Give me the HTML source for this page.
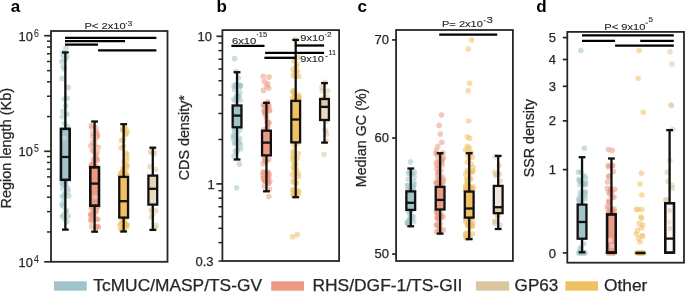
<!DOCTYPE html>
<html><head><meta charset="utf-8"><style>
html,body{margin:0;padding:0;background:#fff;}
svg{display:block;font-family:"Liberation Sans", sans-serif;will-change:transform;}
</style></head><body>
<svg width="685" height="293" viewBox="0 0 685 293">
<rect width="685" height="293" fill="#fff"/>
<circle cx="65.90" cy="48.20" r="2.8" fill="#a0c4c8" fill-opacity="0.55"/>
<circle cx="63.20" cy="52.30" r="2.8" fill="#a0c4c8" fill-opacity="0.55"/>
<circle cx="61.80" cy="61.50" r="2.8" fill="#a0c4c8" fill-opacity="0.55"/>
<circle cx="64.70" cy="59.40" r="2.8" fill="#a0c4c8" fill-opacity="0.55"/>
<circle cx="63.20" cy="66.60" r="2.8" fill="#a0c4c8" fill-opacity="0.55"/>
<circle cx="62.20" cy="78.40" r="2.8" fill="#a0c4c8" fill-opacity="0.55"/>
<circle cx="68.40" cy="87.40" r="2.8" fill="#a0c4c8" fill-opacity="0.55"/>
<circle cx="67.30" cy="98.30" r="2.8" fill="#a0c4c8" fill-opacity="0.55"/>
<circle cx="62.90" cy="55.50" r="2.8" fill="#a0c4c8" fill-opacity="0.55"/>
<circle cx="67.00" cy="56.80" r="2.8" fill="#a0c4c8" fill-opacity="0.55"/>
<circle cx="64.30" cy="69.10" r="2.8" fill="#a0c4c8" fill-opacity="0.55"/>
<circle cx="64.30" cy="99.10" r="2.8" fill="#a0c4c8" fill-opacity="0.55"/>
<circle cx="65.60" cy="105.90" r="2.8" fill="#a0c4c8" fill-opacity="0.55"/>
<circle cx="62.90" cy="111.40" r="2.8" fill="#a0c4c8" fill-opacity="0.55"/>
<circle cx="67.00" cy="114.10" r="2.8" fill="#a0c4c8" fill-opacity="0.55"/>
<circle cx="62.40" cy="116.80" r="2.8" fill="#a0c4c8" fill-opacity="0.55"/>
<circle cx="64.30" cy="123.60" r="2.8" fill="#a0c4c8" fill-opacity="0.55"/>
<circle cx="67.00" cy="126.40" r="2.8" fill="#a0c4c8" fill-opacity="0.55"/>
<circle cx="62.75" cy="188.77" r="2.8" fill="#a0c4c8" fill-opacity="0.55"/>
<circle cx="62.15" cy="196.62" r="2.8" fill="#a0c4c8" fill-opacity="0.55"/>
<circle cx="64.38" cy="193.86" r="2.8" fill="#a0c4c8" fill-opacity="0.55"/>
<circle cx="65.46" cy="182.39" r="2.8" fill="#a0c4c8" fill-opacity="0.55"/>
<circle cx="64.90" cy="181.90" r="2.8" fill="#a0c4c8" fill-opacity="0.55"/>
<circle cx="62.29" cy="182.68" r="2.8" fill="#a0c4c8" fill-opacity="0.55"/>
<circle cx="67.88" cy="191.19" r="2.8" fill="#a0c4c8" fill-opacity="0.55"/>
<circle cx="63.30" cy="183.97" r="2.8" fill="#a0c4c8" fill-opacity="0.55"/>
<circle cx="68.80" cy="196.06" r="2.8" fill="#a0c4c8" fill-opacity="0.55"/>
<circle cx="64.61" cy="194.85" r="2.8" fill="#a0c4c8" fill-opacity="0.55"/>
<circle cx="61.95" cy="204.43" r="2.8" fill="#a0c4c8" fill-opacity="0.55"/>
<circle cx="63.80" cy="201.60" r="2.8" fill="#a0c4c8" fill-opacity="0.55"/>
<circle cx="62.50" cy="184.46" r="2.8" fill="#a0c4c8" fill-opacity="0.55"/>
<circle cx="67.80" cy="188.40" r="2.8" fill="#a0c4c8" fill-opacity="0.55"/>
<circle cx="66.02" cy="185.34" r="2.8" fill="#a0c4c8" fill-opacity="0.55"/>
<circle cx="64.43" cy="196.33" r="2.8" fill="#a0c4c8" fill-opacity="0.55"/>
<circle cx="62.08" cy="216.50" r="2.8" fill="#a0c4c8" fill-opacity="0.55"/>
<circle cx="63.17" cy="206.25" r="2.8" fill="#a0c4c8" fill-opacity="0.55"/>
<circle cx="64.85" cy="219.29" r="2.8" fill="#a0c4c8" fill-opacity="0.55"/>
<circle cx="66.05" cy="211.60" r="2.8" fill="#a0c4c8" fill-opacity="0.55"/>
<circle cx="63.88" cy="214.52" r="2.8" fill="#a0c4c8" fill-opacity="0.55"/>
<circle cx="66.91" cy="221.68" r="2.8" fill="#a0c4c8" fill-opacity="0.55"/>
<circle cx="65.97" cy="210.13" r="2.8" fill="#a0c4c8" fill-opacity="0.55"/>
<circle cx="68.25" cy="216.03" r="2.8" fill="#a0c4c8" fill-opacity="0.55"/>
<circle cx="92.69" cy="142.63" r="2.8" fill="#eb9a84" fill-opacity="0.55"/>
<circle cx="91.40" cy="125.52" r="2.8" fill="#eb9a84" fill-opacity="0.55"/>
<circle cx="96.25" cy="158.05" r="2.8" fill="#eb9a84" fill-opacity="0.55"/>
<circle cx="94.22" cy="165.55" r="2.8" fill="#eb9a84" fill-opacity="0.55"/>
<circle cx="95.58" cy="166.87" r="2.8" fill="#eb9a84" fill-opacity="0.55"/>
<circle cx="94.85" cy="140.48" r="2.8" fill="#eb9a84" fill-opacity="0.55"/>
<circle cx="92.88" cy="133.15" r="2.8" fill="#eb9a84" fill-opacity="0.55"/>
<circle cx="95.02" cy="144.65" r="2.8" fill="#eb9a84" fill-opacity="0.55"/>
<circle cx="93.97" cy="150.88" r="2.8" fill="#eb9a84" fill-opacity="0.55"/>
<circle cx="97.68" cy="135.58" r="2.8" fill="#eb9a84" fill-opacity="0.55"/>
<circle cx="95.55" cy="155.78" r="2.8" fill="#eb9a84" fill-opacity="0.55"/>
<circle cx="95.83" cy="166.72" r="2.8" fill="#eb9a84" fill-opacity="0.55"/>
<circle cx="98.05" cy="147.36" r="2.8" fill="#eb9a84" fill-opacity="0.55"/>
<circle cx="92.66" cy="136.79" r="2.8" fill="#eb9a84" fill-opacity="0.55"/>
<circle cx="95.58" cy="159.26" r="2.8" fill="#eb9a84" fill-opacity="0.55"/>
<circle cx="94.01" cy="166.95" r="2.8" fill="#eb9a84" fill-opacity="0.55"/>
<circle cx="91.39" cy="165.27" r="2.8" fill="#eb9a84" fill-opacity="0.55"/>
<circle cx="96.34" cy="166.74" r="2.8" fill="#eb9a84" fill-opacity="0.55"/>
<circle cx="92.38" cy="165.92" r="2.8" fill="#eb9a84" fill-opacity="0.55"/>
<circle cx="97.12" cy="159.07" r="2.8" fill="#eb9a84" fill-opacity="0.55"/>
<circle cx="93.91" cy="166.54" r="2.8" fill="#eb9a84" fill-opacity="0.55"/>
<circle cx="97.21" cy="152.37" r="2.8" fill="#eb9a84" fill-opacity="0.55"/>
<circle cx="97.07" cy="136.96" r="2.8" fill="#eb9a84" fill-opacity="0.55"/>
<circle cx="93.66" cy="162.70" r="2.8" fill="#eb9a84" fill-opacity="0.55"/>
<circle cx="97.22" cy="160.21" r="2.8" fill="#eb9a84" fill-opacity="0.55"/>
<circle cx="91.65" cy="127.22" r="2.8" fill="#eb9a84" fill-opacity="0.55"/>
<circle cx="92.26" cy="165.11" r="2.8" fill="#eb9a84" fill-opacity="0.55"/>
<circle cx="94.19" cy="163.87" r="2.8" fill="#eb9a84" fill-opacity="0.55"/>
<circle cx="92.50" cy="150.41" r="2.8" fill="#eb9a84" fill-opacity="0.55"/>
<circle cx="93.68" cy="167.00" r="2.8" fill="#eb9a84" fill-opacity="0.55"/>
<circle cx="94.80" cy="159.84" r="2.8" fill="#eb9a84" fill-opacity="0.55"/>
<circle cx="95.75" cy="127.56" r="2.8" fill="#eb9a84" fill-opacity="0.55"/>
<circle cx="95.19" cy="153.95" r="2.8" fill="#eb9a84" fill-opacity="0.55"/>
<circle cx="90.91" cy="145.74" r="2.8" fill="#eb9a84" fill-opacity="0.55"/>
<circle cx="96.43" cy="131.46" r="2.8" fill="#eb9a84" fill-opacity="0.55"/>
<circle cx="96.56" cy="133.22" r="2.8" fill="#eb9a84" fill-opacity="0.55"/>
<circle cx="93.53" cy="159.02" r="2.8" fill="#eb9a84" fill-opacity="0.55"/>
<circle cx="95.32" cy="166.27" r="2.8" fill="#eb9a84" fill-opacity="0.55"/>
<circle cx="91.01" cy="166.71" r="2.8" fill="#eb9a84" fill-opacity="0.55"/>
<circle cx="91.73" cy="164.44" r="2.8" fill="#eb9a84" fill-opacity="0.55"/>
<circle cx="90.90" cy="214.50" r="2.8" fill="#eb9a84" fill-opacity="0.55"/>
<circle cx="91.65" cy="206.01" r="2.8" fill="#eb9a84" fill-opacity="0.55"/>
<circle cx="93.26" cy="208.54" r="2.8" fill="#eb9a84" fill-opacity="0.55"/>
<circle cx="97.14" cy="206.64" r="2.8" fill="#eb9a84" fill-opacity="0.55"/>
<circle cx="91.63" cy="221.35" r="2.8" fill="#eb9a84" fill-opacity="0.55"/>
<circle cx="93.14" cy="212.31" r="2.8" fill="#eb9a84" fill-opacity="0.55"/>
<circle cx="91.43" cy="215.10" r="2.8" fill="#eb9a84" fill-opacity="0.55"/>
<circle cx="98.05" cy="227.22" r="2.8" fill="#eb9a84" fill-opacity="0.55"/>
<circle cx="94.18" cy="217.65" r="2.8" fill="#eb9a84" fill-opacity="0.55"/>
<circle cx="91.28" cy="208.15" r="2.8" fill="#eb9a84" fill-opacity="0.55"/>
<circle cx="92.51" cy="214.57" r="2.8" fill="#eb9a84" fill-opacity="0.55"/>
<circle cx="91.73" cy="226.72" r="2.8" fill="#eb9a84" fill-opacity="0.55"/>
<circle cx="97.73" cy="206.58" r="2.8" fill="#eb9a84" fill-opacity="0.55"/>
<circle cx="91.61" cy="219.21" r="2.8" fill="#eb9a84" fill-opacity="0.55"/>
<circle cx="90.71" cy="219.58" r="2.8" fill="#eb9a84" fill-opacity="0.55"/>
<circle cx="97.94" cy="219.20" r="2.8" fill="#eb9a84" fill-opacity="0.55"/>
<circle cx="95.79" cy="227.58" r="2.8" fill="#eb9a84" fill-opacity="0.55"/>
<circle cx="93.29" cy="212.53" r="2.8" fill="#eb9a84" fill-opacity="0.55"/>
<circle cx="96.37" cy="210.18" r="2.8" fill="#eb9a84" fill-opacity="0.55"/>
<circle cx="96.42" cy="219.31" r="2.8" fill="#eb9a84" fill-opacity="0.55"/>
<circle cx="92.20" cy="214.24" r="2.8" fill="#eb9a84" fill-opacity="0.55"/>
<circle cx="97.99" cy="226.29" r="2.8" fill="#eb9a84" fill-opacity="0.55"/>
<circle cx="96.63" cy="227.32" r="2.8" fill="#eb9a84" fill-opacity="0.55"/>
<circle cx="96.12" cy="226.46" r="2.8" fill="#eb9a84" fill-opacity="0.55"/>
<circle cx="94.43" cy="211.67" r="2.8" fill="#eb9a84" fill-opacity="0.55"/>
<circle cx="90.72" cy="214.89" r="2.8" fill="#eb9a84" fill-opacity="0.55"/>
<circle cx="92.62" cy="206.70" r="2.8" fill="#eb9a84" fill-opacity="0.55"/>
<circle cx="95.76" cy="212.48" r="2.8" fill="#eb9a84" fill-opacity="0.55"/>
<circle cx="123.20" cy="129.85" r="2.8" fill="#f1c062" fill-opacity="0.55"/>
<circle cx="127.31" cy="131.52" r="2.8" fill="#f1c062" fill-opacity="0.55"/>
<circle cx="122.57" cy="129.98" r="2.8" fill="#f1c062" fill-opacity="0.55"/>
<circle cx="121.52" cy="172.71" r="2.8" fill="#f1c062" fill-opacity="0.55"/>
<circle cx="121.35" cy="173.32" r="2.8" fill="#f1c062" fill-opacity="0.55"/>
<circle cx="126.64" cy="154.60" r="2.8" fill="#f1c062" fill-opacity="0.55"/>
<circle cx="123.44" cy="139.43" r="2.8" fill="#f1c062" fill-opacity="0.55"/>
<circle cx="125.88" cy="152.78" r="2.8" fill="#f1c062" fill-opacity="0.55"/>
<circle cx="124.82" cy="175.41" r="2.8" fill="#f1c062" fill-opacity="0.55"/>
<circle cx="125.75" cy="133.83" r="2.8" fill="#f1c062" fill-opacity="0.55"/>
<circle cx="123.43" cy="146.20" r="2.8" fill="#f1c062" fill-opacity="0.55"/>
<circle cx="125.80" cy="173.75" r="2.8" fill="#f1c062" fill-opacity="0.55"/>
<circle cx="125.89" cy="169.11" r="2.8" fill="#f1c062" fill-opacity="0.55"/>
<circle cx="122.81" cy="128.52" r="2.8" fill="#f1c062" fill-opacity="0.55"/>
<circle cx="127.00" cy="166.33" r="2.8" fill="#f1c062" fill-opacity="0.55"/>
<circle cx="121.09" cy="147.99" r="2.8" fill="#f1c062" fill-opacity="0.55"/>
<circle cx="120.95" cy="174.78" r="2.8" fill="#f1c062" fill-opacity="0.55"/>
<circle cx="125.93" cy="134.24" r="2.8" fill="#f1c062" fill-opacity="0.55"/>
<circle cx="126.08" cy="174.43" r="2.8" fill="#f1c062" fill-opacity="0.55"/>
<circle cx="124.80" cy="127.76" r="2.8" fill="#f1c062" fill-opacity="0.55"/>
<circle cx="123.97" cy="168.43" r="2.8" fill="#f1c062" fill-opacity="0.55"/>
<circle cx="119.91" cy="174.71" r="2.8" fill="#f1c062" fill-opacity="0.55"/>
<circle cx="124.74" cy="128.59" r="2.8" fill="#f1c062" fill-opacity="0.55"/>
<circle cx="126.90" cy="160.24" r="2.8" fill="#f1c062" fill-opacity="0.55"/>
<circle cx="126.43" cy="164.88" r="2.8" fill="#f1c062" fill-opacity="0.55"/>
<circle cx="121.40" cy="140.54" r="2.8" fill="#f1c062" fill-opacity="0.55"/>
<circle cx="122.03" cy="171.82" r="2.8" fill="#f1c062" fill-opacity="0.55"/>
<circle cx="124.26" cy="172.15" r="2.8" fill="#f1c062" fill-opacity="0.55"/>
<circle cx="122.98" cy="171.59" r="2.8" fill="#f1c062" fill-opacity="0.55"/>
<circle cx="126.72" cy="174.71" r="2.8" fill="#f1c062" fill-opacity="0.55"/>
<circle cx="123.28" cy="168.30" r="2.8" fill="#f1c062" fill-opacity="0.55"/>
<circle cx="126.67" cy="157.05" r="2.8" fill="#f1c062" fill-opacity="0.55"/>
<circle cx="126.77" cy="165.48" r="2.8" fill="#f1c062" fill-opacity="0.55"/>
<circle cx="123.84" cy="161.56" r="2.8" fill="#f1c062" fill-opacity="0.55"/>
<circle cx="119.94" cy="224.81" r="2.8" fill="#f1c062" fill-opacity="0.55"/>
<circle cx="121.19" cy="223.72" r="2.8" fill="#f1c062" fill-opacity="0.55"/>
<circle cx="125.87" cy="218.05" r="2.8" fill="#f1c062" fill-opacity="0.55"/>
<circle cx="123.40" cy="220.24" r="2.8" fill="#f1c062" fill-opacity="0.55"/>
<circle cx="124.03" cy="227.43" r="2.8" fill="#f1c062" fill-opacity="0.55"/>
<circle cx="123.74" cy="222.24" r="2.8" fill="#f1c062" fill-opacity="0.55"/>
<circle cx="125.76" cy="225.22" r="2.8" fill="#f1c062" fill-opacity="0.55"/>
<circle cx="124.06" cy="219.38" r="2.8" fill="#f1c062" fill-opacity="0.55"/>
<circle cx="121.90" cy="221.23" r="2.8" fill="#f1c062" fill-opacity="0.55"/>
<circle cx="123.66" cy="228.04" r="2.8" fill="#f1c062" fill-opacity="0.55"/>
<circle cx="125.58" cy="225.30" r="2.8" fill="#f1c062" fill-opacity="0.55"/>
<circle cx="123.17" cy="229.86" r="2.8" fill="#f1c062" fill-opacity="0.55"/>
<circle cx="123.64" cy="225.96" r="2.8" fill="#f1c062" fill-opacity="0.55"/>
<circle cx="125.06" cy="224.66" r="2.8" fill="#f1c062" fill-opacity="0.55"/>
<circle cx="123.85" cy="223.88" r="2.8" fill="#f1c062" fill-opacity="0.55"/>
<circle cx="126.96" cy="224.21" r="2.8" fill="#f1c062" fill-opacity="0.55"/>
<circle cx="126.46" cy="227.09" r="2.8" fill="#f1c062" fill-opacity="0.55"/>
<circle cx="121.77" cy="230.25" r="2.8" fill="#f1c062" fill-opacity="0.55"/>
<circle cx="126.97" cy="225.27" r="2.8" fill="#f1c062" fill-opacity="0.55"/>
<circle cx="120.84" cy="228.92" r="2.8" fill="#f1c062" fill-opacity="0.55"/>
<circle cx="152.16" cy="153.04" r="2.8" fill="#dcc6a0" fill-opacity="0.55"/>
<circle cx="150.63" cy="151.81" r="2.8" fill="#dcc6a0" fill-opacity="0.55"/>
<circle cx="153.89" cy="151.83" r="2.8" fill="#dcc6a0" fill-opacity="0.55"/>
<circle cx="155.62" cy="169.60" r="2.8" fill="#dcc6a0" fill-opacity="0.55"/>
<circle cx="154.24" cy="153.86" r="2.8" fill="#dcc6a0" fill-opacity="0.55"/>
<circle cx="149.89" cy="166.51" r="2.8" fill="#dcc6a0" fill-opacity="0.55"/>
<circle cx="156.15" cy="225.42" r="2.8" fill="#dcc6a0" fill-opacity="0.55"/>
<circle cx="156.04" cy="210.83" r="2.8" fill="#dcc6a0" fill-opacity="0.55"/>
<circle cx="152.50" cy="214.76" r="2.8" fill="#dcc6a0" fill-opacity="0.55"/>
<circle cx="155.13" cy="227.78" r="2.8" fill="#dcc6a0" fill-opacity="0.55"/>
<circle cx="152.08" cy="209.55" r="2.8" fill="#dcc6a0" fill-opacity="0.55"/>
<circle cx="151.38" cy="217.34" r="2.8" fill="#dcc6a0" fill-opacity="0.55"/>
<circle cx="151.22" cy="210.31" r="2.8" fill="#dcc6a0" fill-opacity="0.55"/>
<circle cx="234.50" cy="58.60" r="2.8" fill="#a0c4c8" fill-opacity="0.55"/>
<circle cx="239.40" cy="164.10" r="2.8" fill="#a0c4c8" fill-opacity="0.55"/>
<circle cx="236.60" cy="187.70" r="2.8" fill="#a0c4c8" fill-opacity="0.55"/>
<circle cx="233.78" cy="99.17" r="2.8" fill="#a0c4c8" fill-opacity="0.55"/>
<circle cx="236.65" cy="95.64" r="2.8" fill="#a0c4c8" fill-opacity="0.55"/>
<circle cx="235.90" cy="84.38" r="2.8" fill="#a0c4c8" fill-opacity="0.55"/>
<circle cx="237.13" cy="97.10" r="2.8" fill="#a0c4c8" fill-opacity="0.55"/>
<circle cx="240.35" cy="85.35" r="2.8" fill="#a0c4c8" fill-opacity="0.55"/>
<circle cx="240.26" cy="100.56" r="2.8" fill="#a0c4c8" fill-opacity="0.55"/>
<circle cx="235.46" cy="86.20" r="2.8" fill="#a0c4c8" fill-opacity="0.55"/>
<circle cx="238.95" cy="84.83" r="2.8" fill="#a0c4c8" fill-opacity="0.55"/>
<circle cx="234.53" cy="89.68" r="2.8" fill="#a0c4c8" fill-opacity="0.55"/>
<circle cx="239.85" cy="92.87" r="2.8" fill="#a0c4c8" fill-opacity="0.55"/>
<circle cx="235.41" cy="101.20" r="2.8" fill="#a0c4c8" fill-opacity="0.55"/>
<circle cx="239.90" cy="87.14" r="2.8" fill="#a0c4c8" fill-opacity="0.55"/>
<circle cx="238.41" cy="95.98" r="2.8" fill="#a0c4c8" fill-opacity="0.55"/>
<circle cx="234.04" cy="85.88" r="2.8" fill="#a0c4c8" fill-opacity="0.55"/>
<circle cx="236.54" cy="98.45" r="2.8" fill="#a0c4c8" fill-opacity="0.55"/>
<circle cx="240.03" cy="85.52" r="2.8" fill="#a0c4c8" fill-opacity="0.55"/>
<circle cx="239.10" cy="97.32" r="2.8" fill="#a0c4c8" fill-opacity="0.55"/>
<circle cx="239.47" cy="85.76" r="2.8" fill="#a0c4c8" fill-opacity="0.55"/>
<circle cx="236.00" cy="71.50" r="2.8" fill="#a0c4c8" fill-opacity="0.55"/>
<circle cx="238.50" cy="78.00" r="2.8" fill="#a0c4c8" fill-opacity="0.55"/>
<circle cx="239.76" cy="130.00" r="2.8" fill="#a0c4c8" fill-opacity="0.55"/>
<circle cx="235.78" cy="141.61" r="2.8" fill="#a0c4c8" fill-opacity="0.55"/>
<circle cx="240.24" cy="144.59" r="2.8" fill="#a0c4c8" fill-opacity="0.55"/>
<circle cx="234.18" cy="136.04" r="2.8" fill="#a0c4c8" fill-opacity="0.55"/>
<circle cx="235.01" cy="143.81" r="2.8" fill="#a0c4c8" fill-opacity="0.55"/>
<circle cx="234.43" cy="131.28" r="2.8" fill="#a0c4c8" fill-opacity="0.55"/>
<circle cx="234.73" cy="129.51" r="2.8" fill="#a0c4c8" fill-opacity="0.55"/>
<circle cx="235.52" cy="137.36" r="2.8" fill="#a0c4c8" fill-opacity="0.55"/>
<circle cx="235.40" cy="150.78" r="2.8" fill="#a0c4c8" fill-opacity="0.55"/>
<circle cx="234.55" cy="143.00" r="2.8" fill="#a0c4c8" fill-opacity="0.55"/>
<circle cx="233.34" cy="138.41" r="2.8" fill="#a0c4c8" fill-opacity="0.55"/>
<circle cx="233.32" cy="135.51" r="2.8" fill="#a0c4c8" fill-opacity="0.55"/>
<circle cx="237.39" cy="149.99" r="2.8" fill="#a0c4c8" fill-opacity="0.55"/>
<circle cx="236.81" cy="133.68" r="2.8" fill="#a0c4c8" fill-opacity="0.55"/>
<circle cx="234.01" cy="156.04" r="2.8" fill="#a0c4c8" fill-opacity="0.55"/>
<circle cx="236.48" cy="152.57" r="2.8" fill="#a0c4c8" fill-opacity="0.55"/>
<circle cx="239.54" cy="142.85" r="2.8" fill="#a0c4c8" fill-opacity="0.55"/>
<circle cx="237.05" cy="139.79" r="2.8" fill="#a0c4c8" fill-opacity="0.55"/>
<circle cx="240.67" cy="148.63" r="2.8" fill="#a0c4c8" fill-opacity="0.55"/>
<circle cx="239.53" cy="138.28" r="2.8" fill="#a0c4c8" fill-opacity="0.55"/>
<circle cx="263.20" cy="76.20" r="2.8" fill="#eb9a84" fill-opacity="0.55"/>
<circle cx="269.00" cy="77.10" r="2.8" fill="#eb9a84" fill-opacity="0.55"/>
<circle cx="264.40" cy="81.30" r="2.8" fill="#eb9a84" fill-opacity="0.55"/>
<circle cx="267.80" cy="83.90" r="2.8" fill="#eb9a84" fill-opacity="0.55"/>
<circle cx="263.50" cy="90.40" r="2.8" fill="#eb9a84" fill-opacity="0.55"/>
<circle cx="268.70" cy="88.20" r="2.8" fill="#eb9a84" fill-opacity="0.55"/>
<circle cx="266.50" cy="86.00" r="2.8" fill="#eb9a84" fill-opacity="0.55"/>
<circle cx="267.80" cy="101.80" r="2.8" fill="#eb9a84" fill-opacity="0.55"/>
<circle cx="268.80" cy="196.50" r="2.8" fill="#eb9a84" fill-opacity="0.55"/>
<circle cx="267.35" cy="122.37" r="2.8" fill="#eb9a84" fill-opacity="0.55"/>
<circle cx="265.44" cy="114.52" r="2.8" fill="#eb9a84" fill-opacity="0.55"/>
<circle cx="264.01" cy="105.41" r="2.8" fill="#eb9a84" fill-opacity="0.55"/>
<circle cx="268.04" cy="105.84" r="2.8" fill="#eb9a84" fill-opacity="0.55"/>
<circle cx="264.23" cy="110.65" r="2.8" fill="#eb9a84" fill-opacity="0.55"/>
<circle cx="268.70" cy="106.20" r="2.8" fill="#eb9a84" fill-opacity="0.55"/>
<circle cx="267.58" cy="126.63" r="2.8" fill="#eb9a84" fill-opacity="0.55"/>
<circle cx="264.75" cy="111.33" r="2.8" fill="#eb9a84" fill-opacity="0.55"/>
<circle cx="266.18" cy="111.62" r="2.8" fill="#eb9a84" fill-opacity="0.55"/>
<circle cx="266.09" cy="108.10" r="2.8" fill="#eb9a84" fill-opacity="0.55"/>
<circle cx="269.50" cy="110.84" r="2.8" fill="#eb9a84" fill-opacity="0.55"/>
<circle cx="266.76" cy="129.29" r="2.8" fill="#eb9a84" fill-opacity="0.55"/>
<circle cx="269.52" cy="110.36" r="2.8" fill="#eb9a84" fill-opacity="0.55"/>
<circle cx="265.50" cy="112.05" r="2.8" fill="#eb9a84" fill-opacity="0.55"/>
<circle cx="265.67" cy="104.03" r="2.8" fill="#eb9a84" fill-opacity="0.55"/>
<circle cx="266.47" cy="116.34" r="2.8" fill="#eb9a84" fill-opacity="0.55"/>
<circle cx="266.48" cy="109.23" r="2.8" fill="#eb9a84" fill-opacity="0.55"/>
<circle cx="264.89" cy="104.13" r="2.8" fill="#eb9a84" fill-opacity="0.55"/>
<circle cx="265.79" cy="106.33" r="2.8" fill="#eb9a84" fill-opacity="0.55"/>
<circle cx="263.30" cy="105.08" r="2.8" fill="#eb9a84" fill-opacity="0.55"/>
<circle cx="264.69" cy="111.91" r="2.8" fill="#eb9a84" fill-opacity="0.55"/>
<circle cx="266.64" cy="119.23" r="2.8" fill="#eb9a84" fill-opacity="0.55"/>
<circle cx="267.49" cy="123.51" r="2.8" fill="#eb9a84" fill-opacity="0.55"/>
<circle cx="268.95" cy="122.62" r="2.8" fill="#eb9a84" fill-opacity="0.55"/>
<circle cx="265.30" cy="114.13" r="2.8" fill="#eb9a84" fill-opacity="0.55"/>
<circle cx="264.14" cy="129.60" r="2.8" fill="#eb9a84" fill-opacity="0.55"/>
<circle cx="267.40" cy="122.83" r="2.8" fill="#eb9a84" fill-opacity="0.55"/>
<circle cx="268.66" cy="105.14" r="2.8" fill="#eb9a84" fill-opacity="0.55"/>
<circle cx="267.29" cy="127.19" r="2.8" fill="#eb9a84" fill-opacity="0.55"/>
<circle cx="268.51" cy="123.08" r="2.8" fill="#eb9a84" fill-opacity="0.55"/>
<circle cx="266.62" cy="160.74" r="2.8" fill="#eb9a84" fill-opacity="0.55"/>
<circle cx="268.79" cy="173.15" r="2.8" fill="#eb9a84" fill-opacity="0.55"/>
<circle cx="268.73" cy="183.36" r="2.8" fill="#eb9a84" fill-opacity="0.55"/>
<circle cx="269.20" cy="175.86" r="2.8" fill="#eb9a84" fill-opacity="0.55"/>
<circle cx="267.80" cy="179.22" r="2.8" fill="#eb9a84" fill-opacity="0.55"/>
<circle cx="263.17" cy="163.82" r="2.8" fill="#eb9a84" fill-opacity="0.55"/>
<circle cx="265.47" cy="160.53" r="2.8" fill="#eb9a84" fill-opacity="0.55"/>
<circle cx="268.80" cy="159.57" r="2.8" fill="#eb9a84" fill-opacity="0.55"/>
<circle cx="267.34" cy="174.99" r="2.8" fill="#eb9a84" fill-opacity="0.55"/>
<circle cx="267.71" cy="177.29" r="2.8" fill="#eb9a84" fill-opacity="0.55"/>
<circle cx="262.97" cy="172.64" r="2.8" fill="#eb9a84" fill-opacity="0.55"/>
<circle cx="268.19" cy="183.12" r="2.8" fill="#eb9a84" fill-opacity="0.55"/>
<circle cx="266.70" cy="173.10" r="2.8" fill="#eb9a84" fill-opacity="0.55"/>
<circle cx="263.41" cy="178.42" r="2.8" fill="#eb9a84" fill-opacity="0.55"/>
<circle cx="264.72" cy="181.05" r="2.8" fill="#eb9a84" fill-opacity="0.55"/>
<circle cx="264.81" cy="158.53" r="2.8" fill="#eb9a84" fill-opacity="0.55"/>
<circle cx="264.39" cy="180.80" r="2.8" fill="#eb9a84" fill-opacity="0.55"/>
<circle cx="269.78" cy="181.15" r="2.8" fill="#eb9a84" fill-opacity="0.55"/>
<circle cx="265.63" cy="172.79" r="2.8" fill="#eb9a84" fill-opacity="0.55"/>
<circle cx="267.74" cy="172.29" r="2.8" fill="#eb9a84" fill-opacity="0.55"/>
<circle cx="267.27" cy="182.08" r="2.8" fill="#eb9a84" fill-opacity="0.55"/>
<circle cx="263.49" cy="177.85" r="2.8" fill="#eb9a84" fill-opacity="0.55"/>
<circle cx="264.73" cy="161.01" r="2.8" fill="#eb9a84" fill-opacity="0.55"/>
<circle cx="265.08" cy="181.27" r="2.8" fill="#eb9a84" fill-opacity="0.55"/>
<circle cx="263.04" cy="175.30" r="2.8" fill="#eb9a84" fill-opacity="0.55"/>
<circle cx="264.83" cy="158.06" r="2.8" fill="#eb9a84" fill-opacity="0.55"/>
<circle cx="267.80" cy="178.85" r="2.8" fill="#eb9a84" fill-opacity="0.55"/>
<circle cx="264.99" cy="178.97" r="2.8" fill="#eb9a84" fill-opacity="0.55"/>
<circle cx="266.20" cy="173.56" r="2.8" fill="#eb9a84" fill-opacity="0.55"/>
<circle cx="263.78" cy="171.86" r="2.8" fill="#eb9a84" fill-opacity="0.55"/>
<circle cx="264.34" cy="186.38" r="2.8" fill="#eb9a84" fill-opacity="0.55"/>
<circle cx="269.50" cy="189.26" r="2.8" fill="#eb9a84" fill-opacity="0.55"/>
<circle cx="295.30" cy="39.50" r="2.8" fill="#f1c062" fill-opacity="0.55"/>
<circle cx="292.50" cy="236.80" r="2.8" fill="#f1c062" fill-opacity="0.55"/>
<circle cx="297.20" cy="234.60" r="2.8" fill="#f1c062" fill-opacity="0.55"/>
<circle cx="298.40" cy="57.30" r="2.8" fill="#f1c062" fill-opacity="0.55"/>
<circle cx="294.00" cy="61.00" r="2.8" fill="#f1c062" fill-opacity="0.55"/>
<circle cx="297.00" cy="64.00" r="2.8" fill="#f1c062" fill-opacity="0.55"/>
<circle cx="295.42" cy="100.98" r="2.8" fill="#f1c062" fill-opacity="0.55"/>
<circle cx="298.88" cy="76.52" r="2.8" fill="#f1c062" fill-opacity="0.55"/>
<circle cx="294.13" cy="92.70" r="2.8" fill="#f1c062" fill-opacity="0.55"/>
<circle cx="298.73" cy="98.89" r="2.8" fill="#f1c062" fill-opacity="0.55"/>
<circle cx="296.25" cy="98.88" r="2.8" fill="#f1c062" fill-opacity="0.55"/>
<circle cx="295.86" cy="99.96" r="2.8" fill="#f1c062" fill-opacity="0.55"/>
<circle cx="293.20" cy="68.92" r="2.8" fill="#f1c062" fill-opacity="0.55"/>
<circle cx="295.76" cy="76.50" r="2.8" fill="#f1c062" fill-opacity="0.55"/>
<circle cx="297.08" cy="72.80" r="2.8" fill="#f1c062" fill-opacity="0.55"/>
<circle cx="298.40" cy="98.49" r="2.8" fill="#f1c062" fill-opacity="0.55"/>
<circle cx="292.47" cy="91.44" r="2.8" fill="#f1c062" fill-opacity="0.55"/>
<circle cx="295.64" cy="101.00" r="2.8" fill="#f1c062" fill-opacity="0.55"/>
<circle cx="294.35" cy="92.66" r="2.8" fill="#f1c062" fill-opacity="0.55"/>
<circle cx="294.64" cy="99.97" r="2.8" fill="#f1c062" fill-opacity="0.55"/>
<circle cx="298.01" cy="96.60" r="2.8" fill="#f1c062" fill-opacity="0.55"/>
<circle cx="297.40" cy="101.00" r="2.8" fill="#f1c062" fill-opacity="0.55"/>
<circle cx="293.12" cy="75.48" r="2.8" fill="#f1c062" fill-opacity="0.55"/>
<circle cx="297.15" cy="70.50" r="2.8" fill="#f1c062" fill-opacity="0.55"/>
<circle cx="294.27" cy="71.96" r="2.8" fill="#f1c062" fill-opacity="0.55"/>
<circle cx="294.97" cy="95.09" r="2.8" fill="#f1c062" fill-opacity="0.55"/>
<circle cx="296.31" cy="66.08" r="2.8" fill="#f1c062" fill-opacity="0.55"/>
<circle cx="295.21" cy="95.42" r="2.8" fill="#f1c062" fill-opacity="0.55"/>
<circle cx="292.63" cy="97.57" r="2.8" fill="#f1c062" fill-opacity="0.55"/>
<circle cx="297.98" cy="100.43" r="2.8" fill="#f1c062" fill-opacity="0.55"/>
<circle cx="298.66" cy="97.33" r="2.8" fill="#f1c062" fill-opacity="0.55"/>
<circle cx="294.11" cy="98.13" r="2.8" fill="#f1c062" fill-opacity="0.55"/>
<circle cx="293.59" cy="90.55" r="2.8" fill="#f1c062" fill-opacity="0.55"/>
<circle cx="298.80" cy="95.06" r="2.8" fill="#f1c062" fill-opacity="0.55"/>
<circle cx="297.70" cy="190.63" r="2.8" fill="#f1c062" fill-opacity="0.55"/>
<circle cx="298.35" cy="176.70" r="2.8" fill="#f1c062" fill-opacity="0.55"/>
<circle cx="296.02" cy="193.74" r="2.8" fill="#f1c062" fill-opacity="0.55"/>
<circle cx="292.82" cy="181.58" r="2.8" fill="#f1c062" fill-opacity="0.55"/>
<circle cx="295.39" cy="182.28" r="2.8" fill="#f1c062" fill-opacity="0.55"/>
<circle cx="296.62" cy="183.40" r="2.8" fill="#f1c062" fill-opacity="0.55"/>
<circle cx="292.81" cy="157.74" r="2.8" fill="#f1c062" fill-opacity="0.55"/>
<circle cx="293.31" cy="192.97" r="2.8" fill="#f1c062" fill-opacity="0.55"/>
<circle cx="294.70" cy="167.97" r="2.8" fill="#f1c062" fill-opacity="0.55"/>
<circle cx="297.23" cy="158.38" r="2.8" fill="#f1c062" fill-opacity="0.55"/>
<circle cx="294.17" cy="195.70" r="2.8" fill="#f1c062" fill-opacity="0.55"/>
<circle cx="294.43" cy="178.08" r="2.8" fill="#f1c062" fill-opacity="0.55"/>
<circle cx="295.02" cy="172.65" r="2.8" fill="#f1c062" fill-opacity="0.55"/>
<circle cx="293.53" cy="151.20" r="2.8" fill="#f1c062" fill-opacity="0.55"/>
<circle cx="298.30" cy="153.43" r="2.8" fill="#f1c062" fill-opacity="0.55"/>
<circle cx="293.91" cy="169.34" r="2.8" fill="#f1c062" fill-opacity="0.55"/>
<circle cx="298.88" cy="191.84" r="2.8" fill="#f1c062" fill-opacity="0.55"/>
<circle cx="293.39" cy="166.75" r="2.8" fill="#f1c062" fill-opacity="0.55"/>
<circle cx="293.08" cy="152.58" r="2.8" fill="#f1c062" fill-opacity="0.55"/>
<circle cx="293.08" cy="160.81" r="2.8" fill="#f1c062" fill-opacity="0.55"/>
<circle cx="294.15" cy="155.15" r="2.8" fill="#f1c062" fill-opacity="0.55"/>
<circle cx="298.18" cy="173.33" r="2.8" fill="#f1c062" fill-opacity="0.55"/>
<circle cx="295.14" cy="183.23" r="2.8" fill="#f1c062" fill-opacity="0.55"/>
<circle cx="295.85" cy="164.76" r="2.8" fill="#f1c062" fill-opacity="0.55"/>
<circle cx="294.66" cy="162.73" r="2.8" fill="#f1c062" fill-opacity="0.55"/>
<circle cx="294.28" cy="145.41" r="2.8" fill="#f1c062" fill-opacity="0.55"/>
<circle cx="293.31" cy="195.22" r="2.8" fill="#f1c062" fill-opacity="0.55"/>
<circle cx="296.53" cy="169.69" r="2.8" fill="#f1c062" fill-opacity="0.55"/>
<circle cx="293.88" cy="189.46" r="2.8" fill="#f1c062" fill-opacity="0.55"/>
<circle cx="294.09" cy="156.91" r="2.8" fill="#f1c062" fill-opacity="0.55"/>
<circle cx="295.35" cy="163.99" r="2.8" fill="#f1c062" fill-opacity="0.55"/>
<circle cx="297.93" cy="194.47" r="2.8" fill="#f1c062" fill-opacity="0.55"/>
<circle cx="292.64" cy="190.01" r="2.8" fill="#f1c062" fill-opacity="0.55"/>
<circle cx="297.04" cy="143.77" r="2.8" fill="#f1c062" fill-opacity="0.55"/>
<circle cx="295.53" cy="191.26" r="2.8" fill="#f1c062" fill-opacity="0.55"/>
<circle cx="292.50" cy="174.29" r="2.8" fill="#f1c062" fill-opacity="0.55"/>
<circle cx="322.40" cy="90.70" r="2.8" fill="#dcc6a0" fill-opacity="0.55"/>
<circle cx="325.00" cy="82.20" r="2.8" fill="#dcc6a0" fill-opacity="0.55"/>
<circle cx="323.90" cy="154.50" r="2.8" fill="#dcc6a0" fill-opacity="0.55"/>
<circle cx="327.74" cy="91.09" r="2.8" fill="#dcc6a0" fill-opacity="0.55"/>
<circle cx="327.20" cy="96.73" r="2.8" fill="#dcc6a0" fill-opacity="0.55"/>
<circle cx="322.59" cy="98.64" r="2.8" fill="#dcc6a0" fill-opacity="0.55"/>
<circle cx="321.87" cy="87.42" r="2.8" fill="#dcc6a0" fill-opacity="0.55"/>
<circle cx="325.88" cy="131.49" r="2.8" fill="#dcc6a0" fill-opacity="0.55"/>
<circle cx="326.19" cy="140.71" r="2.8" fill="#dcc6a0" fill-opacity="0.55"/>
<circle cx="326.51" cy="134.24" r="2.8" fill="#dcc6a0" fill-opacity="0.55"/>
<circle cx="324.89" cy="130.06" r="2.8" fill="#dcc6a0" fill-opacity="0.55"/>
<circle cx="326.65" cy="120.87" r="2.8" fill="#dcc6a0" fill-opacity="0.55"/>
<circle cx="471.50" cy="40.10" r="2.8" fill="#f1c062" fill-opacity="0.55"/>
<circle cx="468.30" cy="49.10" r="2.8" fill="#f1c062" fill-opacity="0.55"/>
<circle cx="469.60" cy="83.20" r="2.8" fill="#f1c062" fill-opacity="0.55"/>
<circle cx="468.30" cy="90.80" r="2.8" fill="#f1c062" fill-opacity="0.55"/>
<circle cx="468.80" cy="121.00" r="2.8" fill="#f1c062" fill-opacity="0.55"/>
<circle cx="467.40" cy="136.80" r="2.8" fill="#f1c062" fill-opacity="0.55"/>
<circle cx="469.60" cy="138.20" r="2.8" fill="#f1c062" fill-opacity="0.55"/>
<circle cx="467.40" cy="146.40" r="2.8" fill="#f1c062" fill-opacity="0.55"/>
<circle cx="469.60" cy="147.70" r="2.8" fill="#f1c062" fill-opacity="0.55"/>
<circle cx="465.50" cy="150.00" r="2.8" fill="#f1c062" fill-opacity="0.55"/>
<circle cx="472.49" cy="188.03" r="2.8" fill="#f1c062" fill-opacity="0.55"/>
<circle cx="467.81" cy="172.35" r="2.8" fill="#f1c062" fill-opacity="0.55"/>
<circle cx="467.41" cy="189.99" r="2.8" fill="#f1c062" fill-opacity="0.55"/>
<circle cx="470.81" cy="172.83" r="2.8" fill="#f1c062" fill-opacity="0.55"/>
<circle cx="466.03" cy="190.20" r="2.8" fill="#f1c062" fill-opacity="0.55"/>
<circle cx="469.93" cy="178.17" r="2.8" fill="#f1c062" fill-opacity="0.55"/>
<circle cx="467.20" cy="183.54" r="2.8" fill="#f1c062" fill-opacity="0.55"/>
<circle cx="465.58" cy="174.60" r="2.8" fill="#f1c062" fill-opacity="0.55"/>
<circle cx="469.00" cy="186.26" r="2.8" fill="#f1c062" fill-opacity="0.55"/>
<circle cx="470.40" cy="152.98" r="2.8" fill="#f1c062" fill-opacity="0.55"/>
<circle cx="469.11" cy="158.18" r="2.8" fill="#f1c062" fill-opacity="0.55"/>
<circle cx="467.38" cy="187.98" r="2.8" fill="#f1c062" fill-opacity="0.55"/>
<circle cx="470.86" cy="152.86" r="2.8" fill="#f1c062" fill-opacity="0.55"/>
<circle cx="465.67" cy="186.09" r="2.8" fill="#f1c062" fill-opacity="0.55"/>
<circle cx="470.63" cy="179.30" r="2.8" fill="#f1c062" fill-opacity="0.55"/>
<circle cx="467.46" cy="182.40" r="2.8" fill="#f1c062" fill-opacity="0.55"/>
<circle cx="472.53" cy="171.20" r="2.8" fill="#f1c062" fill-opacity="0.55"/>
<circle cx="465.76" cy="188.16" r="2.8" fill="#f1c062" fill-opacity="0.55"/>
<circle cx="468.70" cy="185.18" r="2.8" fill="#f1c062" fill-opacity="0.55"/>
<circle cx="467.01" cy="170.38" r="2.8" fill="#f1c062" fill-opacity="0.55"/>
<circle cx="471.12" cy="163.74" r="2.8" fill="#f1c062" fill-opacity="0.55"/>
<circle cx="467.06" cy="179.02" r="2.8" fill="#f1c062" fill-opacity="0.55"/>
<circle cx="467.87" cy="152.20" r="2.8" fill="#f1c062" fill-opacity="0.55"/>
<circle cx="467.25" cy="162.32" r="2.8" fill="#f1c062" fill-opacity="0.55"/>
<circle cx="471.28" cy="188.28" r="2.8" fill="#f1c062" fill-opacity="0.55"/>
<circle cx="472.73" cy="186.45" r="2.8" fill="#f1c062" fill-opacity="0.55"/>
<circle cx="466.92" cy="179.40" r="2.8" fill="#f1c062" fill-opacity="0.55"/>
<circle cx="468.67" cy="188.24" r="2.8" fill="#f1c062" fill-opacity="0.55"/>
<circle cx="472.71" cy="171.31" r="2.8" fill="#f1c062" fill-opacity="0.55"/>
<circle cx="468.49" cy="189.71" r="2.8" fill="#f1c062" fill-opacity="0.55"/>
<circle cx="472.90" cy="188.47" r="2.8" fill="#f1c062" fill-opacity="0.55"/>
<circle cx="465.89" cy="189.78" r="2.8" fill="#f1c062" fill-opacity="0.55"/>
<circle cx="468.49" cy="190.74" r="2.8" fill="#f1c062" fill-opacity="0.55"/>
<circle cx="472.22" cy="157.21" r="2.8" fill="#f1c062" fill-opacity="0.55"/>
<circle cx="473.08" cy="167.58" r="2.8" fill="#f1c062" fill-opacity="0.55"/>
<circle cx="468.00" cy="154.91" r="2.8" fill="#f1c062" fill-opacity="0.55"/>
<circle cx="472.61" cy="221.90" r="2.8" fill="#f1c062" fill-opacity="0.55"/>
<circle cx="465.74" cy="233.67" r="2.8" fill="#f1c062" fill-opacity="0.55"/>
<circle cx="468.38" cy="231.95" r="2.8" fill="#f1c062" fill-opacity="0.55"/>
<circle cx="468.02" cy="225.85" r="2.8" fill="#f1c062" fill-opacity="0.55"/>
<circle cx="465.52" cy="221.55" r="2.8" fill="#f1c062" fill-opacity="0.55"/>
<circle cx="468.17" cy="223.88" r="2.8" fill="#f1c062" fill-opacity="0.55"/>
<circle cx="466.44" cy="238.07" r="2.8" fill="#f1c062" fill-opacity="0.55"/>
<circle cx="467.08" cy="238.25" r="2.8" fill="#f1c062" fill-opacity="0.55"/>
<circle cx="471.74" cy="225.49" r="2.8" fill="#f1c062" fill-opacity="0.55"/>
<circle cx="468.79" cy="235.26" r="2.8" fill="#f1c062" fill-opacity="0.55"/>
<circle cx="469.10" cy="219.03" r="2.8" fill="#f1c062" fill-opacity="0.55"/>
<circle cx="472.49" cy="225.83" r="2.8" fill="#f1c062" fill-opacity="0.55"/>
<circle cx="468.27" cy="222.05" r="2.8" fill="#f1c062" fill-opacity="0.55"/>
<circle cx="465.73" cy="236.84" r="2.8" fill="#f1c062" fill-opacity="0.55"/>
<circle cx="471.67" cy="226.63" r="2.8" fill="#f1c062" fill-opacity="0.55"/>
<circle cx="465.81" cy="234.10" r="2.8" fill="#f1c062" fill-opacity="0.55"/>
<circle cx="465.98" cy="218.73" r="2.8" fill="#f1c062" fill-opacity="0.55"/>
<circle cx="467.45" cy="237.32" r="2.8" fill="#f1c062" fill-opacity="0.55"/>
<circle cx="472.33" cy="233.69" r="2.8" fill="#f1c062" fill-opacity="0.55"/>
<circle cx="467.57" cy="225.12" r="2.8" fill="#f1c062" fill-opacity="0.55"/>
<circle cx="470.19" cy="238.11" r="2.8" fill="#f1c062" fill-opacity="0.55"/>
<circle cx="470.95" cy="223.51" r="2.8" fill="#f1c062" fill-opacity="0.55"/>
<circle cx="467.59" cy="224.65" r="2.8" fill="#f1c062" fill-opacity="0.55"/>
<circle cx="471.24" cy="218.08" r="2.8" fill="#f1c062" fill-opacity="0.55"/>
<circle cx="441.50" cy="115.00" r="2.8" fill="#eb9a84" fill-opacity="0.55"/>
<circle cx="439.10" cy="125.40" r="2.8" fill="#eb9a84" fill-opacity="0.55"/>
<circle cx="440.20" cy="134.10" r="2.8" fill="#eb9a84" fill-opacity="0.55"/>
<circle cx="441.80" cy="142.30" r="2.8" fill="#eb9a84" fill-opacity="0.55"/>
<circle cx="437.70" cy="146.40" r="2.8" fill="#eb9a84" fill-opacity="0.55"/>
<circle cx="440.52" cy="155.23" r="2.8" fill="#eb9a84" fill-opacity="0.55"/>
<circle cx="435.88" cy="153.59" r="2.8" fill="#eb9a84" fill-opacity="0.55"/>
<circle cx="439.31" cy="183.37" r="2.8" fill="#eb9a84" fill-opacity="0.55"/>
<circle cx="442.95" cy="152.75" r="2.8" fill="#eb9a84" fill-opacity="0.55"/>
<circle cx="437.61" cy="179.50" r="2.8" fill="#eb9a84" fill-opacity="0.55"/>
<circle cx="439.45" cy="178.12" r="2.8" fill="#eb9a84" fill-opacity="0.55"/>
<circle cx="437.09" cy="154.52" r="2.8" fill="#eb9a84" fill-opacity="0.55"/>
<circle cx="441.31" cy="161.77" r="2.8" fill="#eb9a84" fill-opacity="0.55"/>
<circle cx="441.57" cy="160.66" r="2.8" fill="#eb9a84" fill-opacity="0.55"/>
<circle cx="438.19" cy="171.33" r="2.8" fill="#eb9a84" fill-opacity="0.55"/>
<circle cx="438.45" cy="181.38" r="2.8" fill="#eb9a84" fill-opacity="0.55"/>
<circle cx="436.30" cy="162.86" r="2.8" fill="#eb9a84" fill-opacity="0.55"/>
<circle cx="441.42" cy="184.06" r="2.8" fill="#eb9a84" fill-opacity="0.55"/>
<circle cx="436.19" cy="183.09" r="2.8" fill="#eb9a84" fill-opacity="0.55"/>
<circle cx="439.90" cy="185.92" r="2.8" fill="#eb9a84" fill-opacity="0.55"/>
<circle cx="443.15" cy="181.22" r="2.8" fill="#eb9a84" fill-opacity="0.55"/>
<circle cx="443.21" cy="157.20" r="2.8" fill="#eb9a84" fill-opacity="0.55"/>
<circle cx="436.34" cy="182.71" r="2.8" fill="#eb9a84" fill-opacity="0.55"/>
<circle cx="439.49" cy="185.47" r="2.8" fill="#eb9a84" fill-opacity="0.55"/>
<circle cx="439.10" cy="166.58" r="2.8" fill="#eb9a84" fill-opacity="0.55"/>
<circle cx="438.87" cy="183.36" r="2.8" fill="#eb9a84" fill-opacity="0.55"/>
<circle cx="440.82" cy="170.76" r="2.8" fill="#eb9a84" fill-opacity="0.55"/>
<circle cx="442.14" cy="164.65" r="2.8" fill="#eb9a84" fill-opacity="0.55"/>
<circle cx="436.62" cy="168.75" r="2.8" fill="#eb9a84" fill-opacity="0.55"/>
<circle cx="437.93" cy="159.65" r="2.8" fill="#eb9a84" fill-opacity="0.55"/>
<circle cx="438.53" cy="173.04" r="2.8" fill="#eb9a84" fill-opacity="0.55"/>
<circle cx="437.21" cy="165.16" r="2.8" fill="#eb9a84" fill-opacity="0.55"/>
<circle cx="437.56" cy="183.09" r="2.8" fill="#eb9a84" fill-opacity="0.55"/>
<circle cx="442.42" cy="184.77" r="2.8" fill="#eb9a84" fill-opacity="0.55"/>
<circle cx="438.18" cy="172.57" r="2.8" fill="#eb9a84" fill-opacity="0.55"/>
<circle cx="443.24" cy="179.20" r="2.8" fill="#eb9a84" fill-opacity="0.55"/>
<circle cx="437.46" cy="175.39" r="2.8" fill="#eb9a84" fill-opacity="0.55"/>
<circle cx="440.67" cy="161.45" r="2.8" fill="#eb9a84" fill-opacity="0.55"/>
<circle cx="436.48" cy="150.58" r="2.8" fill="#eb9a84" fill-opacity="0.55"/>
<circle cx="441.93" cy="176.58" r="2.8" fill="#eb9a84" fill-opacity="0.55"/>
<circle cx="442.65" cy="159.67" r="2.8" fill="#eb9a84" fill-opacity="0.55"/>
<circle cx="437.93" cy="210.93" r="2.8" fill="#eb9a84" fill-opacity="0.55"/>
<circle cx="437.14" cy="212.74" r="2.8" fill="#eb9a84" fill-opacity="0.55"/>
<circle cx="440.13" cy="232.38" r="2.8" fill="#eb9a84" fill-opacity="0.55"/>
<circle cx="438.53" cy="231.39" r="2.8" fill="#eb9a84" fill-opacity="0.55"/>
<circle cx="439.11" cy="229.92" r="2.8" fill="#eb9a84" fill-opacity="0.55"/>
<circle cx="441.61" cy="215.98" r="2.8" fill="#eb9a84" fill-opacity="0.55"/>
<circle cx="436.50" cy="231.75" r="2.8" fill="#eb9a84" fill-opacity="0.55"/>
<circle cx="440.41" cy="223.71" r="2.8" fill="#eb9a84" fill-opacity="0.55"/>
<circle cx="438.50" cy="215.01" r="2.8" fill="#eb9a84" fill-opacity="0.55"/>
<circle cx="437.25" cy="213.25" r="2.8" fill="#eb9a84" fill-opacity="0.55"/>
<circle cx="440.26" cy="215.86" r="2.8" fill="#eb9a84" fill-opacity="0.55"/>
<circle cx="437.25" cy="224.99" r="2.8" fill="#eb9a84" fill-opacity="0.55"/>
<circle cx="438.19" cy="210.26" r="2.8" fill="#eb9a84" fill-opacity="0.55"/>
<circle cx="437.11" cy="225.60" r="2.8" fill="#eb9a84" fill-opacity="0.55"/>
<circle cx="437.25" cy="217.18" r="2.8" fill="#eb9a84" fill-opacity="0.55"/>
<circle cx="439.87" cy="228.29" r="2.8" fill="#eb9a84" fill-opacity="0.55"/>
<circle cx="436.47" cy="211.46" r="2.8" fill="#eb9a84" fill-opacity="0.55"/>
<circle cx="439.88" cy="219.09" r="2.8" fill="#eb9a84" fill-opacity="0.55"/>
<circle cx="436.39" cy="224.70" r="2.8" fill="#eb9a84" fill-opacity="0.55"/>
<circle cx="440.99" cy="213.76" r="2.8" fill="#eb9a84" fill-opacity="0.55"/>
<circle cx="437.85" cy="219.43" r="2.8" fill="#eb9a84" fill-opacity="0.55"/>
<circle cx="442.94" cy="217.07" r="2.8" fill="#eb9a84" fill-opacity="0.55"/>
<circle cx="440.01" cy="217.18" r="2.8" fill="#eb9a84" fill-opacity="0.55"/>
<circle cx="438.86" cy="218.22" r="2.8" fill="#eb9a84" fill-opacity="0.55"/>
<circle cx="443.27" cy="229.88" r="2.8" fill="#eb9a84" fill-opacity="0.55"/>
<circle cx="437.20" cy="218.37" r="2.8" fill="#eb9a84" fill-opacity="0.55"/>
<circle cx="410.50" cy="161.90" r="2.8" fill="#a0c4c8" fill-opacity="0.55"/>
<circle cx="408.30" cy="173.10" r="2.8" fill="#a0c4c8" fill-opacity="0.55"/>
<circle cx="412.40" cy="173.60" r="2.8" fill="#a0c4c8" fill-opacity="0.55"/>
<circle cx="408.45" cy="179.14" r="2.8" fill="#a0c4c8" fill-opacity="0.55"/>
<circle cx="413.75" cy="191.00" r="2.8" fill="#a0c4c8" fill-opacity="0.55"/>
<circle cx="413.13" cy="186.52" r="2.8" fill="#a0c4c8" fill-opacity="0.55"/>
<circle cx="413.61" cy="186.85" r="2.8" fill="#a0c4c8" fill-opacity="0.55"/>
<circle cx="408.14" cy="185.79" r="2.8" fill="#a0c4c8" fill-opacity="0.55"/>
<circle cx="411.09" cy="190.99" r="2.8" fill="#a0c4c8" fill-opacity="0.55"/>
<circle cx="413.81" cy="181.58" r="2.8" fill="#a0c4c8" fill-opacity="0.55"/>
<circle cx="411.63" cy="190.73" r="2.8" fill="#a0c4c8" fill-opacity="0.55"/>
<circle cx="410.73" cy="187.48" r="2.8" fill="#a0c4c8" fill-opacity="0.55"/>
<circle cx="409.05" cy="190.34" r="2.8" fill="#a0c4c8" fill-opacity="0.55"/>
<circle cx="413.93" cy="184.50" r="2.8" fill="#a0c4c8" fill-opacity="0.55"/>
<circle cx="410.63" cy="190.61" r="2.8" fill="#a0c4c8" fill-opacity="0.55"/>
<circle cx="414.25" cy="176.79" r="2.8" fill="#a0c4c8" fill-opacity="0.55"/>
<circle cx="407.86" cy="189.87" r="2.8" fill="#a0c4c8" fill-opacity="0.55"/>
<circle cx="414.31" cy="172.10" r="2.8" fill="#a0c4c8" fill-opacity="0.55"/>
<circle cx="407.31" cy="185.34" r="2.8" fill="#a0c4c8" fill-opacity="0.55"/>
<circle cx="409.85" cy="172.71" r="2.8" fill="#a0c4c8" fill-opacity="0.55"/>
<circle cx="411.61" cy="173.48" r="2.8" fill="#a0c4c8" fill-opacity="0.55"/>
<circle cx="408.12" cy="223.19" r="2.8" fill="#a0c4c8" fill-opacity="0.55"/>
<circle cx="408.59" cy="222.57" r="2.8" fill="#a0c4c8" fill-opacity="0.55"/>
<circle cx="413.33" cy="216.47" r="2.8" fill="#a0c4c8" fill-opacity="0.55"/>
<circle cx="408.29" cy="223.27" r="2.8" fill="#a0c4c8" fill-opacity="0.55"/>
<circle cx="409.94" cy="213.49" r="2.8" fill="#a0c4c8" fill-opacity="0.55"/>
<circle cx="409.82" cy="218.29" r="2.8" fill="#a0c4c8" fill-opacity="0.55"/>
<circle cx="408.78" cy="211.97" r="2.8" fill="#a0c4c8" fill-opacity="0.55"/>
<circle cx="413.72" cy="221.60" r="2.8" fill="#a0c4c8" fill-opacity="0.55"/>
<circle cx="411.17" cy="210.66" r="2.8" fill="#a0c4c8" fill-opacity="0.55"/>
<circle cx="407.19" cy="222.12" r="2.8" fill="#a0c4c8" fill-opacity="0.55"/>
<circle cx="407.79" cy="223.41" r="2.8" fill="#a0c4c8" fill-opacity="0.55"/>
<circle cx="411.08" cy="219.59" r="2.8" fill="#a0c4c8" fill-opacity="0.55"/>
<circle cx="409.23" cy="220.03" r="2.8" fill="#a0c4c8" fill-opacity="0.55"/>
<circle cx="411.33" cy="216.72" r="2.8" fill="#a0c4c8" fill-opacity="0.55"/>
<circle cx="495.50" cy="156.50" r="2.8" fill="#dcc6a0" fill-opacity="0.55"/>
<circle cx="494.70" cy="172.30" r="2.8" fill="#dcc6a0" fill-opacity="0.55"/>
<circle cx="499.41" cy="173.94" r="2.8" fill="#dcc6a0" fill-opacity="0.55"/>
<circle cx="497.73" cy="174.38" r="2.8" fill="#dcc6a0" fill-opacity="0.55"/>
<circle cx="499.10" cy="165.49" r="2.8" fill="#dcc6a0" fill-opacity="0.55"/>
<circle cx="496.19" cy="175.28" r="2.8" fill="#dcc6a0" fill-opacity="0.55"/>
<circle cx="500.33" cy="181.03" r="2.8" fill="#dcc6a0" fill-opacity="0.55"/>
<circle cx="495.76" cy="174.62" r="2.8" fill="#dcc6a0" fill-opacity="0.55"/>
<circle cx="495.21" cy="221.10" r="2.8" fill="#dcc6a0" fill-opacity="0.55"/>
<circle cx="497.67" cy="215.93" r="2.8" fill="#dcc6a0" fill-opacity="0.55"/>
<circle cx="497.76" cy="215.38" r="2.8" fill="#dcc6a0" fill-opacity="0.55"/>
<circle cx="494.71" cy="221.65" r="2.8" fill="#dcc6a0" fill-opacity="0.55"/>
<circle cx="495.03" cy="223.55" r="2.8" fill="#dcc6a0" fill-opacity="0.55"/>
<circle cx="500.31" cy="225.00" r="2.8" fill="#dcc6a0" fill-opacity="0.55"/>
<circle cx="580.80" cy="50.50" r="2.8" fill="#a0c4c8" fill-opacity="0.55"/>
<circle cx="584.40" cy="148.20" r="2.8" fill="#a0c4c8" fill-opacity="0.55"/>
<circle cx="578.41" cy="172.18" r="2.8" fill="#a0c4c8" fill-opacity="0.55"/>
<circle cx="580.87" cy="172.06" r="2.8" fill="#a0c4c8" fill-opacity="0.55"/>
<circle cx="579.04" cy="179.21" r="2.8" fill="#a0c4c8" fill-opacity="0.55"/>
<circle cx="585.57" cy="177.71" r="2.8" fill="#a0c4c8" fill-opacity="0.55"/>
<circle cx="584.19" cy="175.71" r="2.8" fill="#a0c4c8" fill-opacity="0.55"/>
<circle cx="585.46" cy="184.65" r="2.8" fill="#a0c4c8" fill-opacity="0.55"/>
<circle cx="585.27" cy="191.80" r="2.8" fill="#a0c4c8" fill-opacity="0.55"/>
<circle cx="579.25" cy="201.98" r="2.8" fill="#a0c4c8" fill-opacity="0.55"/>
<circle cx="585.07" cy="198.92" r="2.8" fill="#a0c4c8" fill-opacity="0.55"/>
<circle cx="580.67" cy="181.57" r="2.8" fill="#a0c4c8" fill-opacity="0.55"/>
<circle cx="579.21" cy="198.15" r="2.8" fill="#a0c4c8" fill-opacity="0.55"/>
<circle cx="580.09" cy="201.52" r="2.8" fill="#a0c4c8" fill-opacity="0.55"/>
<circle cx="579.09" cy="199.58" r="2.8" fill="#a0c4c8" fill-opacity="0.55"/>
<circle cx="584.99" cy="192.05" r="2.8" fill="#a0c4c8" fill-opacity="0.55"/>
<circle cx="580.00" cy="185.00" r="2.8" fill="#a0c4c8" fill-opacity="0.55"/>
<circle cx="580.42" cy="192.14" r="2.8" fill="#a0c4c8" fill-opacity="0.55"/>
<circle cx="579.38" cy="180.88" r="2.8" fill="#a0c4c8" fill-opacity="0.55"/>
<circle cx="585.12" cy="183.87" r="2.8" fill="#a0c4c8" fill-opacity="0.55"/>
<circle cx="584.81" cy="196.31" r="2.8" fill="#a0c4c8" fill-opacity="0.55"/>
<circle cx="583.97" cy="184.05" r="2.8" fill="#a0c4c8" fill-opacity="0.55"/>
<circle cx="582.03" cy="182.76" r="2.8" fill="#a0c4c8" fill-opacity="0.55"/>
<circle cx="580.73" cy="195.27" r="2.8" fill="#a0c4c8" fill-opacity="0.55"/>
<circle cx="582.22" cy="200.95" r="2.8" fill="#a0c4c8" fill-opacity="0.55"/>
<circle cx="584.71" cy="193.92" r="2.8" fill="#a0c4c8" fill-opacity="0.55"/>
<circle cx="585.55" cy="182.51" r="2.8" fill="#a0c4c8" fill-opacity="0.55"/>
<circle cx="581.00" cy="247.19" r="2.8" fill="#a0c4c8" fill-opacity="0.55"/>
<circle cx="580.01" cy="249.37" r="2.8" fill="#a0c4c8" fill-opacity="0.55"/>
<circle cx="582.39" cy="251.88" r="2.8" fill="#a0c4c8" fill-opacity="0.55"/>
<circle cx="583.81" cy="243.68" r="2.8" fill="#a0c4c8" fill-opacity="0.55"/>
<circle cx="578.60" cy="252.90" r="2.8" fill="#a0c4c8" fill-opacity="0.55"/>
<circle cx="579.70" cy="252.90" r="2.8" fill="#a0c4c8" fill-opacity="0.55"/>
<circle cx="580.80" cy="252.90" r="2.8" fill="#a0c4c8" fill-opacity="0.55"/>
<circle cx="581.90" cy="252.90" r="2.8" fill="#a0c4c8" fill-opacity="0.55"/>
<circle cx="583.00" cy="252.90" r="2.8" fill="#a0c4c8" fill-opacity="0.55"/>
<circle cx="584.10" cy="252.90" r="2.8" fill="#a0c4c8" fill-opacity="0.55"/>
<circle cx="585.20" cy="252.90" r="2.8" fill="#a0c4c8" fill-opacity="0.55"/>
<circle cx="608.40" cy="149.50" r="2.8" fill="#eb9a84" fill-opacity="0.55"/>
<circle cx="612.20" cy="150.40" r="2.8" fill="#eb9a84" fill-opacity="0.55"/>
<circle cx="608.60" cy="166.80" r="2.8" fill="#eb9a84" fill-opacity="0.55"/>
<circle cx="611.90" cy="165.40" r="2.8" fill="#eb9a84" fill-opacity="0.55"/>
<circle cx="608.54" cy="200.80" r="2.8" fill="#eb9a84" fill-opacity="0.55"/>
<circle cx="607.57" cy="181.91" r="2.8" fill="#eb9a84" fill-opacity="0.55"/>
<circle cx="609.13" cy="175.93" r="2.8" fill="#eb9a84" fill-opacity="0.55"/>
<circle cx="614.68" cy="189.32" r="2.8" fill="#eb9a84" fill-opacity="0.55"/>
<circle cx="612.24" cy="192.75" r="2.8" fill="#eb9a84" fill-opacity="0.55"/>
<circle cx="607.21" cy="206.46" r="2.8" fill="#eb9a84" fill-opacity="0.55"/>
<circle cx="608.34" cy="212.88" r="2.8" fill="#eb9a84" fill-opacity="0.55"/>
<circle cx="610.48" cy="190.84" r="2.8" fill="#eb9a84" fill-opacity="0.55"/>
<circle cx="614.01" cy="197.08" r="2.8" fill="#eb9a84" fill-opacity="0.55"/>
<circle cx="608.93" cy="211.62" r="2.8" fill="#eb9a84" fill-opacity="0.55"/>
<circle cx="607.37" cy="188.38" r="2.8" fill="#eb9a84" fill-opacity="0.55"/>
<circle cx="609.90" cy="213.00" r="2.8" fill="#eb9a84" fill-opacity="0.55"/>
<circle cx="609.91" cy="212.06" r="2.8" fill="#eb9a84" fill-opacity="0.55"/>
<circle cx="611.64" cy="209.41" r="2.8" fill="#eb9a84" fill-opacity="0.55"/>
<circle cx="608.75" cy="192.55" r="2.8" fill="#eb9a84" fill-opacity="0.55"/>
<circle cx="610.81" cy="190.33" r="2.8" fill="#eb9a84" fill-opacity="0.55"/>
<circle cx="614.32" cy="211.56" r="2.8" fill="#eb9a84" fill-opacity="0.55"/>
<circle cx="608.33" cy="208.83" r="2.8" fill="#eb9a84" fill-opacity="0.55"/>
<circle cx="612.05" cy="212.22" r="2.8" fill="#eb9a84" fill-opacity="0.55"/>
<circle cx="613.14" cy="171.64" r="2.8" fill="#eb9a84" fill-opacity="0.55"/>
<circle cx="609.21" cy="202.72" r="2.8" fill="#eb9a84" fill-opacity="0.55"/>
<circle cx="612.10" cy="212.98" r="2.8" fill="#eb9a84" fill-opacity="0.55"/>
<circle cx="609.86" cy="194.20" r="2.8" fill="#eb9a84" fill-opacity="0.55"/>
<circle cx="610.57" cy="188.89" r="2.8" fill="#eb9a84" fill-opacity="0.55"/>
<circle cx="612.77" cy="165.84" r="2.8" fill="#eb9a84" fill-opacity="0.55"/>
<circle cx="614.07" cy="208.68" r="2.8" fill="#eb9a84" fill-opacity="0.55"/>
<circle cx="611.24" cy="212.81" r="2.8" fill="#eb9a84" fill-opacity="0.55"/>
<circle cx="609.01" cy="202.54" r="2.8" fill="#eb9a84" fill-opacity="0.55"/>
<circle cx="613.12" cy="212.68" r="2.8" fill="#eb9a84" fill-opacity="0.55"/>
<circle cx="611.39" cy="212.98" r="2.8" fill="#eb9a84" fill-opacity="0.55"/>
<circle cx="608.28" cy="165.50" r="2.8" fill="#eb9a84" fill-opacity="0.55"/>
<circle cx="611.82" cy="210.09" r="2.8" fill="#eb9a84" fill-opacity="0.55"/>
<circle cx="612.08" cy="197.40" r="2.8" fill="#eb9a84" fill-opacity="0.55"/>
<circle cx="608.53" cy="176.46" r="2.8" fill="#eb9a84" fill-opacity="0.55"/>
<circle cx="607.80" cy="252.90" r="2.8" fill="#eb9a84" fill-opacity="0.55"/>
<circle cx="608.90" cy="252.90" r="2.8" fill="#eb9a84" fill-opacity="0.55"/>
<circle cx="610.00" cy="252.90" r="2.8" fill="#eb9a84" fill-opacity="0.55"/>
<circle cx="611.10" cy="252.90" r="2.8" fill="#eb9a84" fill-opacity="0.55"/>
<circle cx="612.20" cy="252.90" r="2.8" fill="#eb9a84" fill-opacity="0.55"/>
<circle cx="613.30" cy="252.90" r="2.8" fill="#eb9a84" fill-opacity="0.55"/>
<circle cx="614.40" cy="252.90" r="2.8" fill="#eb9a84" fill-opacity="0.55"/>
<circle cx="639.20" cy="50.50" r="2.8" fill="#f1c062" fill-opacity="0.55"/>
<circle cx="638.10" cy="78.30" r="2.8" fill="#f1c062" fill-opacity="0.55"/>
<circle cx="643.30" cy="112.30" r="2.8" fill="#f1c062" fill-opacity="0.55"/>
<circle cx="641.40" cy="173.10" r="2.8" fill="#f1c062" fill-opacity="0.55"/>
<circle cx="640.00" cy="184.10" r="2.8" fill="#f1c062" fill-opacity="0.55"/>
<circle cx="641.90" cy="195.00" r="2.8" fill="#f1c062" fill-opacity="0.55"/>
<circle cx="638.10" cy="209.50" r="2.8" fill="#f1c062" fill-opacity="0.55"/>
<circle cx="641.90" cy="209.50" r="2.8" fill="#f1c062" fill-opacity="0.55"/>
<circle cx="641.40" cy="218.20" r="2.8" fill="#f1c062" fill-opacity="0.55"/>
<circle cx="639.20" cy="223.60" r="2.8" fill="#f1c062" fill-opacity="0.55"/>
<circle cx="642.70" cy="225.00" r="2.8" fill="#f1c062" fill-opacity="0.55"/>
<circle cx="637.30" cy="230.40" r="2.8" fill="#f1c062" fill-opacity="0.55"/>
<circle cx="642.70" cy="235.90" r="2.8" fill="#f1c062" fill-opacity="0.55"/>
<circle cx="638.60" cy="238.60" r="2.8" fill="#f1c062" fill-opacity="0.55"/>
<circle cx="640.00" cy="242.00" r="2.8" fill="#f1c062" fill-opacity="0.55"/>
<circle cx="637.00" cy="253.00" r="2.8" fill="#f1c062" fill-opacity="0.55"/>
<circle cx="638.10" cy="253.00" r="2.8" fill="#f1c062" fill-opacity="0.55"/>
<circle cx="639.20" cy="253.00" r="2.8" fill="#f1c062" fill-opacity="0.55"/>
<circle cx="640.30" cy="253.00" r="2.8" fill="#f1c062" fill-opacity="0.55"/>
<circle cx="641.40" cy="253.00" r="2.8" fill="#f1c062" fill-opacity="0.55"/>
<circle cx="642.50" cy="253.00" r="2.8" fill="#f1c062" fill-opacity="0.55"/>
<circle cx="643.60" cy="253.00" r="2.8" fill="#f1c062" fill-opacity="0.55"/>
<circle cx="670.00" cy="51.80" r="2.8" fill="#dcc6a0" fill-opacity="0.55"/>
<circle cx="671.90" cy="64.10" r="2.8" fill="#dcc6a0" fill-opacity="0.55"/>
<circle cx="670.80" cy="105.00" r="2.8" fill="#dcc6a0" fill-opacity="0.55"/>
<circle cx="671.40" cy="105.50" r="2.8" fill="#dcc6a0" fill-opacity="0.55"/>
<circle cx="672.70" cy="129.50" r="2.8" fill="#dcc6a0" fill-opacity="0.55"/>
<circle cx="670.00" cy="160.50" r="2.8" fill="#dcc6a0" fill-opacity="0.55"/>
<circle cx="667.30" cy="172.30" r="2.8" fill="#dcc6a0" fill-opacity="0.55"/>
<circle cx="668.00" cy="181.40" r="2.8" fill="#dcc6a0" fill-opacity="0.55"/>
<circle cx="667.78" cy="205.11" r="2.8" fill="#dcc6a0" fill-opacity="0.55"/>
<circle cx="672.26" cy="188.15" r="2.8" fill="#dcc6a0" fill-opacity="0.55"/>
<circle cx="670.94" cy="235.89" r="2.8" fill="#dcc6a0" fill-opacity="0.55"/>
<circle cx="671.92" cy="185.41" r="2.8" fill="#dcc6a0" fill-opacity="0.55"/>
<circle cx="669.04" cy="233.44" r="2.8" fill="#dcc6a0" fill-opacity="0.55"/>
<circle cx="668.94" cy="233.21" r="2.8" fill="#dcc6a0" fill-opacity="0.55"/>
<circle cx="666.30" cy="199.69" r="2.8" fill="#dcc6a0" fill-opacity="0.55"/>
<circle cx="665.80" cy="200.10" r="2.8" fill="#dcc6a0" fill-opacity="0.55"/>
<circle cx="641.00" cy="217.00" r="2.8" fill="#f1c062" fill-opacity="0.55"/>
<circle cx="641.50" cy="228.00" r="2.8" fill="#f1c062" fill-opacity="0.55"/>
<circle cx="642.00" cy="236.00" r="2.8" fill="#f1c062" fill-opacity="0.55"/>
<circle cx="636.50" cy="234.00" r="2.8" fill="#f1c062" fill-opacity="0.55"/>
<circle cx="636.50" cy="209.40" r="2.8" fill="#f1c062" fill-opacity="0.55"/>
<line x1="65.35" y1="52.40" x2="65.35" y2="128.90" stroke="#111111" stroke-width="2.3" stroke-linecap="butt"/>
<line x1="65.35" y1="179.90" x2="65.35" y2="229.60" stroke="#111111" stroke-width="2.3" stroke-linecap="butt"/>
<line x1="61.95" y1="52.40" x2="68.75" y2="52.40" stroke="#111111" stroke-width="2.3" stroke-linecap="butt"/>
<line x1="61.95" y1="229.60" x2="68.75" y2="229.60" stroke="#111111" stroke-width="2.3" stroke-linecap="butt"/>
<rect x="60.95" y="128.90" width="8.80" height="51.00" fill="#a0c4c8" stroke="#111111" stroke-width="2.3"/>
<line x1="60.95" y1="157.00" x2="69.75" y2="157.00" stroke="#111111" stroke-width="2.3" stroke-linecap="butt"/>
<line x1="94.60" y1="121.50" x2="94.60" y2="167.30" stroke="#111111" stroke-width="2.3" stroke-linecap="butt"/>
<line x1="94.60" y1="205.70" x2="94.60" y2="231.70" stroke="#111111" stroke-width="2.3" stroke-linecap="butt"/>
<line x1="91.20" y1="121.50" x2="98.00" y2="121.50" stroke="#111111" stroke-width="2.3" stroke-linecap="butt"/>
<line x1="91.20" y1="231.70" x2="98.00" y2="231.70" stroke="#111111" stroke-width="2.3" stroke-linecap="butt"/>
<rect x="90.20" y="167.30" width="8.80" height="38.40" fill="#eb9a84" stroke="#111111" stroke-width="2.3"/>
<line x1="90.20" y1="183.60" x2="99.00" y2="183.60" stroke="#111111" stroke-width="2.3" stroke-linecap="butt"/>
<line x1="123.65" y1="124.20" x2="123.65" y2="176.90" stroke="#111111" stroke-width="2.3" stroke-linecap="butt"/>
<line x1="123.65" y1="217.60" x2="123.65" y2="231.50" stroke="#111111" stroke-width="2.3" stroke-linecap="butt"/>
<line x1="120.25" y1="124.20" x2="127.05" y2="124.20" stroke="#111111" stroke-width="2.3" stroke-linecap="butt"/>
<line x1="120.25" y1="231.50" x2="127.05" y2="231.50" stroke="#111111" stroke-width="2.3" stroke-linecap="butt"/>
<rect x="119.25" y="176.90" width="8.80" height="40.70" fill="#f1c062" stroke="#111111" stroke-width="2.3"/>
<line x1="119.25" y1="201.20" x2="128.05" y2="201.20" stroke="#111111" stroke-width="2.3" stroke-linecap="butt"/>
<line x1="152.80" y1="147.70" x2="152.80" y2="175.60" stroke="#111111" stroke-width="2.3" stroke-linecap="butt"/>
<line x1="152.80" y1="204.60" x2="152.80" y2="229.90" stroke="#111111" stroke-width="2.3" stroke-linecap="butt"/>
<line x1="149.40" y1="147.70" x2="156.20" y2="147.70" stroke="#111111" stroke-width="2.3" stroke-linecap="butt"/>
<line x1="149.40" y1="229.90" x2="156.20" y2="229.90" stroke="#111111" stroke-width="2.3" stroke-linecap="butt"/>
<rect x="148.40" y="175.60" width="8.80" height="13.20" fill="#e6d4b6"/>
<rect x="148.40" y="188.80" width="8.80" height="15.80" fill="#e9dac1"/>
<rect x="148.40" y="175.60" width="8.80" height="29.00" fill="none" stroke="#111111" stroke-width="2.3"/>
<line x1="148.40" y1="188.80" x2="157.20" y2="188.80" stroke="#111111" stroke-width="2.3" stroke-linecap="butt"/>
<line x1="237.05" y1="72.20" x2="237.05" y2="105.50" stroke="#111111" stroke-width="2.3" stroke-linecap="butt"/>
<line x1="237.05" y1="127.30" x2="237.05" y2="159.50" stroke="#111111" stroke-width="2.3" stroke-linecap="butt"/>
<line x1="233.65" y1="72.20" x2="240.45" y2="72.20" stroke="#111111" stroke-width="2.3" stroke-linecap="butt"/>
<line x1="233.65" y1="159.50" x2="240.45" y2="159.50" stroke="#111111" stroke-width="2.3" stroke-linecap="butt"/>
<rect x="232.65" y="105.50" width="8.80" height="21.80" fill="#a0c4c8" stroke="#111111" stroke-width="2.3"/>
<line x1="232.65" y1="115.60" x2="241.45" y2="115.60" stroke="#111111" stroke-width="2.3" stroke-linecap="butt"/>
<line x1="266.45" y1="102.80" x2="266.45" y2="130.70" stroke="#111111" stroke-width="2.3" stroke-linecap="butt"/>
<line x1="266.45" y1="155.40" x2="266.45" y2="191.30" stroke="#111111" stroke-width="2.3" stroke-linecap="butt"/>
<line x1="263.05" y1="102.80" x2="269.85" y2="102.80" stroke="#111111" stroke-width="2.3" stroke-linecap="butt"/>
<line x1="263.05" y1="191.30" x2="269.85" y2="191.30" stroke="#111111" stroke-width="2.3" stroke-linecap="butt"/>
<rect x="262.05" y="130.70" width="8.80" height="24.70" fill="#eb9a84" stroke="#111111" stroke-width="2.3"/>
<line x1="262.05" y1="142.60" x2="270.85" y2="142.60" stroke="#111111" stroke-width="2.3" stroke-linecap="butt"/>
<line x1="295.70" y1="39.90" x2="295.70" y2="100.90" stroke="#111111" stroke-width="2.3" stroke-linecap="butt"/>
<line x1="295.70" y1="142.40" x2="295.70" y2="197.20" stroke="#111111" stroke-width="2.3" stroke-linecap="butt"/>
<line x1="292.30" y1="39.90" x2="299.10" y2="39.90" stroke="#111111" stroke-width="2.3" stroke-linecap="butt"/>
<line x1="292.30" y1="197.20" x2="299.10" y2="197.20" stroke="#111111" stroke-width="2.3" stroke-linecap="butt"/>
<rect x="291.30" y="100.90" width="8.80" height="41.50" fill="#f1c062" stroke="#111111" stroke-width="2.3"/>
<line x1="291.30" y1="119.50" x2="300.10" y2="119.50" stroke="#111111" stroke-width="2.3" stroke-linecap="butt"/>
<line x1="324.50" y1="83.10" x2="324.50" y2="99.00" stroke="#111111" stroke-width="2.3" stroke-linecap="butt"/>
<line x1="324.50" y1="120.00" x2="324.50" y2="142.60" stroke="#111111" stroke-width="2.3" stroke-linecap="butt"/>
<line x1="321.10" y1="83.10" x2="327.90" y2="83.10" stroke="#111111" stroke-width="2.3" stroke-linecap="butt"/>
<line x1="321.10" y1="142.60" x2="327.90" y2="142.60" stroke="#111111" stroke-width="2.3" stroke-linecap="butt"/>
<rect x="320.10" y="99.00" width="8.80" height="7.90" fill="#e0cba9"/>
<rect x="320.10" y="106.90" width="8.80" height="13.10" fill="#eadbc3"/>
<rect x="320.10" y="99.00" width="8.80" height="21.00" fill="none" stroke="#111111" stroke-width="2.3"/>
<line x1="320.10" y1="106.90" x2="328.90" y2="106.90" stroke="#111111" stroke-width="2.3" stroke-linecap="butt"/>
<line x1="410.75" y1="168.50" x2="410.75" y2="191.40" stroke="#111111" stroke-width="2.3" stroke-linecap="butt"/>
<line x1="410.75" y1="209.90" x2="410.75" y2="226.30" stroke="#111111" stroke-width="2.3" stroke-linecap="butt"/>
<line x1="407.35" y1="168.50" x2="414.15" y2="168.50" stroke="#111111" stroke-width="2.3" stroke-linecap="butt"/>
<line x1="407.35" y1="226.30" x2="414.15" y2="226.30" stroke="#111111" stroke-width="2.3" stroke-linecap="butt"/>
<rect x="406.35" y="191.40" width="8.80" height="18.50" fill="#a0c4c8" stroke="#111111" stroke-width="2.3"/>
<line x1="406.35" y1="202.80" x2="415.15" y2="202.80" stroke="#111111" stroke-width="2.3" stroke-linecap="butt"/>
<line x1="440.10" y1="153.20" x2="440.10" y2="186.90" stroke="#111111" stroke-width="2.3" stroke-linecap="butt"/>
<line x1="440.10" y1="209.50" x2="440.10" y2="233.60" stroke="#111111" stroke-width="2.3" stroke-linecap="butt"/>
<line x1="436.70" y1="153.20" x2="443.50" y2="153.20" stroke="#111111" stroke-width="2.3" stroke-linecap="butt"/>
<line x1="436.70" y1="233.60" x2="443.50" y2="233.60" stroke="#111111" stroke-width="2.3" stroke-linecap="butt"/>
<rect x="435.70" y="186.90" width="8.80" height="22.60" fill="#eb9a84" stroke="#111111" stroke-width="2.3"/>
<line x1="435.70" y1="199.90" x2="444.50" y2="199.90" stroke="#111111" stroke-width="2.3" stroke-linecap="butt"/>
<line x1="469.20" y1="153.20" x2="469.20" y2="191.60" stroke="#111111" stroke-width="2.3" stroke-linecap="butt"/>
<line x1="469.20" y1="217.60" x2="469.20" y2="239.10" stroke="#111111" stroke-width="2.3" stroke-linecap="butt"/>
<line x1="465.80" y1="153.20" x2="472.60" y2="153.20" stroke="#111111" stroke-width="2.3" stroke-linecap="butt"/>
<line x1="465.80" y1="239.10" x2="472.60" y2="239.10" stroke="#111111" stroke-width="2.3" stroke-linecap="butt"/>
<rect x="464.80" y="191.60" width="8.80" height="26.00" fill="#f1c062" stroke="#111111" stroke-width="2.3"/>
<line x1="464.80" y1="208.50" x2="473.60" y2="208.50" stroke="#111111" stroke-width="2.3" stroke-linecap="butt"/>
<line x1="498.20" y1="155.90" x2="498.20" y2="185.90" stroke="#111111" stroke-width="2.3" stroke-linecap="butt"/>
<line x1="498.20" y1="213.20" x2="498.20" y2="229.00" stroke="#111111" stroke-width="2.3" stroke-linecap="butt"/>
<line x1="494.80" y1="155.90" x2="501.60" y2="155.90" stroke="#111111" stroke-width="2.3" stroke-linecap="butt"/>
<line x1="494.80" y1="229.00" x2="501.60" y2="229.00" stroke="#111111" stroke-width="2.3" stroke-linecap="butt"/>
<rect x="493.80" y="185.90" width="8.80" height="21.30" fill="#f0e7d9"/>
<rect x="493.80" y="207.20" width="8.80" height="6.00" fill="#dfcba9"/>
<rect x="493.80" y="185.90" width="8.80" height="27.30" fill="none" stroke="#111111" stroke-width="2.3"/>
<line x1="493.80" y1="207.20" x2="502.60" y2="207.20" stroke="#111111" stroke-width="2.3" stroke-linecap="butt"/>
<line x1="582.05" y1="157.20" x2="582.05" y2="204.60" stroke="#111111" stroke-width="2.3" stroke-linecap="butt"/>
<line x1="582.05" y1="238.70" x2="582.05" y2="252.30" stroke="#111111" stroke-width="2.3" stroke-linecap="butt"/>
<line x1="578.65" y1="157.20" x2="585.45" y2="157.20" stroke="#111111" stroke-width="2.3" stroke-linecap="butt"/>
<line x1="578.65" y1="252.30" x2="585.45" y2="252.30" stroke="#111111" stroke-width="2.3" stroke-linecap="butt"/>
<rect x="577.65" y="204.60" width="8.80" height="34.10" fill="#a0c4c8" stroke="#111111" stroke-width="2.3"/>
<line x1="577.65" y1="222.00" x2="586.45" y2="222.00" stroke="#111111" stroke-width="2.3" stroke-linecap="butt"/>
<line x1="611.45" y1="158.50" x2="611.45" y2="214.40" stroke="#111111" stroke-width="2.3" stroke-linecap="butt"/>
<line x1="611.45" y1="252.60" x2="611.45" y2="252.60" stroke="#111111" stroke-width="2.3" stroke-linecap="butt"/>
<line x1="608.05" y1="158.50" x2="614.85" y2="158.50" stroke="#111111" stroke-width="2.3" stroke-linecap="butt"/>
<line x1="608.05" y1="252.60" x2="614.85" y2="252.60" stroke="#111111" stroke-width="2.3" stroke-linecap="butt"/>
<rect x="607.05" y="214.40" width="8.80" height="38.20" fill="#eb9a84" stroke="#111111" stroke-width="2.3"/>
<line x1="607.05" y1="252.60" x2="615.85" y2="252.60" stroke="#111111" stroke-width="2.3" stroke-linecap="butt"/>
<line x1="635.30" y1="253.00" x2="645.50" y2="253.00" stroke="#111111" stroke-width="2.6" stroke-linecap="butt"/>
<line x1="669.60" y1="130.10" x2="669.60" y2="203.20" stroke="#111111" stroke-width="2.3" stroke-linecap="butt"/>
<line x1="669.60" y1="252.60" x2="669.60" y2="252.60" stroke="#111111" stroke-width="2.3" stroke-linecap="butt"/>
<line x1="666.20" y1="130.10" x2="673.00" y2="130.10" stroke="#111111" stroke-width="2.3" stroke-linecap="butt"/>
<line x1="666.20" y1="252.60" x2="673.00" y2="252.60" stroke="#111111" stroke-width="2.3" stroke-linecap="butt"/>
<rect x="665.20" y="203.20" width="8.80" height="35.40" fill="#fbf8f3"/>
<rect x="665.20" y="238.60" width="8.80" height="14.00" fill="#fdfbf8"/>
<rect x="665.20" y="203.20" width="8.80" height="49.40" fill="none" stroke="#111111" stroke-width="2.3"/>
<line x1="665.20" y1="238.60" x2="674.00" y2="238.60" stroke="#111111" stroke-width="2.3" stroke-linecap="butt"/>
<circle cx="669.50" cy="210.50" r="2.6" fill="#dcc6a0" fill-opacity="0.55"/>
<circle cx="670.00" cy="228.30" r="2.6" fill="#dcc6a0" fill-opacity="0.55"/>
<circle cx="668.80" cy="222.00" r="2.6" fill="#dcc6a0" fill-opacity="0.35"/>
<circle cx="610.00" cy="240.00" r="2.6" fill="#ffffff" fill-opacity="0.45"/>
<circle cx="612.00" cy="246.00" r="2.6" fill="#ffffff" fill-opacity="0.35"/>
<circle cx="64.50" cy="138.00" r="2.6" fill="#ffffff" fill-opacity="0.25"/>
<circle cx="95.00" cy="197.00" r="2.6" fill="#ffffff" fill-opacity="0.3"/>
<rect x="665.20" y="203.20" width="8.80" height="49.40" fill="none" stroke="#111111" stroke-width="2.3"/>
<rect x="607.05" y="214.40" width="8.80" height="38.20" fill="none" stroke="#111111" stroke-width="2.3"/>
<rect x="60.95" y="128.90" width="8.80" height="51.00" fill="none" stroke="#111111" stroke-width="2.3"/>
<rect x="90.20" y="167.30" width="8.80" height="38.40" fill="none" stroke="#111111" stroke-width="2.3"/>
<rect x="51.00" y="31.00" width="116.50" height="230.80" fill="none" stroke="#262626" stroke-width="1.8"/>
<rect x="222.40" y="30.10" width="116.70" height="230.90" fill="none" stroke="#262626" stroke-width="1.8"/>
<rect x="396.10" y="30.00" width="116.80" height="231.00" fill="none" stroke="#262626" stroke-width="1.8"/>
<rect x="567.30" y="31.90" width="116.70" height="230.80" fill="none" stroke="#262626" stroke-width="1.8"/>
<line x1="44.20" y1="35.70" x2="51.00" y2="35.70" stroke="#262626" stroke-width="1.7" stroke-linecap="butt"/>
<line x1="44.20" y1="151.30" x2="51.00" y2="151.30" stroke="#262626" stroke-width="1.7" stroke-linecap="butt"/>
<line x1="44.20" y1="261.80" x2="51.00" y2="261.80" stroke="#262626" stroke-width="1.7" stroke-linecap="butt"/>
<line x1="47.00" y1="231.96" x2="51.00" y2="231.96" stroke="#262626" stroke-width="1.5" stroke-linecap="butt"/>
<line x1="47.00" y1="116.56" x2="51.00" y2="116.56" stroke="#262626" stroke-width="1.5" stroke-linecap="butt"/>
<line x1="47.00" y1="211.64" x2="51.00" y2="211.64" stroke="#262626" stroke-width="1.5" stroke-linecap="butt"/>
<line x1="47.00" y1="96.24" x2="51.00" y2="96.24" stroke="#262626" stroke-width="1.5" stroke-linecap="butt"/>
<line x1="47.00" y1="197.22" x2="51.00" y2="197.22" stroke="#262626" stroke-width="1.5" stroke-linecap="butt"/>
<line x1="47.00" y1="81.82" x2="51.00" y2="81.82" stroke="#262626" stroke-width="1.5" stroke-linecap="butt"/>
<line x1="47.00" y1="186.04" x2="51.00" y2="186.04" stroke="#262626" stroke-width="1.5" stroke-linecap="butt"/>
<line x1="47.00" y1="70.64" x2="51.00" y2="70.64" stroke="#262626" stroke-width="1.5" stroke-linecap="butt"/>
<line x1="47.00" y1="176.90" x2="51.00" y2="176.90" stroke="#262626" stroke-width="1.5" stroke-linecap="butt"/>
<line x1="47.00" y1="61.50" x2="51.00" y2="61.50" stroke="#262626" stroke-width="1.5" stroke-linecap="butt"/>
<line x1="47.00" y1="169.18" x2="51.00" y2="169.18" stroke="#262626" stroke-width="1.5" stroke-linecap="butt"/>
<line x1="47.00" y1="53.78" x2="51.00" y2="53.78" stroke="#262626" stroke-width="1.5" stroke-linecap="butt"/>
<line x1="47.00" y1="162.48" x2="51.00" y2="162.48" stroke="#262626" stroke-width="1.5" stroke-linecap="butt"/>
<line x1="47.00" y1="47.08" x2="51.00" y2="47.08" stroke="#262626" stroke-width="1.5" stroke-linecap="butt"/>
<line x1="47.00" y1="156.58" x2="51.00" y2="156.58" stroke="#262626" stroke-width="1.5" stroke-linecap="butt"/>
<line x1="47.00" y1="41.18" x2="51.00" y2="41.18" stroke="#262626" stroke-width="1.5" stroke-linecap="butt"/>
<line x1="216.40" y1="36.30" x2="222.40" y2="36.30" stroke="#262626" stroke-width="1.7" stroke-linecap="butt"/>
<line x1="216.40" y1="183.90" x2="222.40" y2="183.90" stroke="#262626" stroke-width="1.7" stroke-linecap="butt"/>
<line x1="218.40" y1="261.08" x2="222.40" y2="261.08" stroke="#262626" stroke-width="1.5" stroke-linecap="butt"/>
<line x1="218.40" y1="242.64" x2="222.40" y2="242.64" stroke="#262626" stroke-width="1.5" stroke-linecap="butt"/>
<line x1="218.40" y1="228.33" x2="222.40" y2="228.33" stroke="#262626" stroke-width="1.5" stroke-linecap="butt"/>
<line x1="218.40" y1="216.64" x2="222.40" y2="216.64" stroke="#262626" stroke-width="1.5" stroke-linecap="butt"/>
<line x1="218.40" y1="206.76" x2="222.40" y2="206.76" stroke="#262626" stroke-width="1.5" stroke-linecap="butt"/>
<line x1="218.40" y1="198.20" x2="222.40" y2="198.20" stroke="#262626" stroke-width="1.5" stroke-linecap="butt"/>
<line x1="218.40" y1="190.65" x2="222.40" y2="190.65" stroke="#262626" stroke-width="1.5" stroke-linecap="butt"/>
<line x1="218.40" y1="139.47" x2="222.40" y2="139.47" stroke="#262626" stroke-width="1.5" stroke-linecap="butt"/>
<line x1="218.40" y1="113.48" x2="222.40" y2="113.48" stroke="#262626" stroke-width="1.5" stroke-linecap="butt"/>
<line x1="218.40" y1="95.04" x2="222.40" y2="95.04" stroke="#262626" stroke-width="1.5" stroke-linecap="butt"/>
<line x1="218.40" y1="80.73" x2="222.40" y2="80.73" stroke="#262626" stroke-width="1.5" stroke-linecap="butt"/>
<line x1="218.40" y1="69.04" x2="222.40" y2="69.04" stroke="#262626" stroke-width="1.5" stroke-linecap="butt"/>
<line x1="218.40" y1="59.16" x2="222.40" y2="59.16" stroke="#262626" stroke-width="1.5" stroke-linecap="butt"/>
<line x1="218.40" y1="50.60" x2="222.40" y2="50.60" stroke="#262626" stroke-width="1.5" stroke-linecap="butt"/>
<line x1="218.40" y1="43.05" x2="222.40" y2="43.05" stroke="#262626" stroke-width="1.5" stroke-linecap="butt"/>
<line x1="392.10" y1="254.10" x2="396.10" y2="254.10" stroke="#262626" stroke-width="1.7" stroke-linecap="butt"/>
<line x1="392.10" y1="138.04" x2="396.10" y2="138.04" stroke="#262626" stroke-width="1.7" stroke-linecap="butt"/>
<line x1="392.10" y1="39.91" x2="396.10" y2="39.91" stroke="#262626" stroke-width="1.7" stroke-linecap="butt"/>
<line x1="562.80" y1="252.90" x2="567.30" y2="252.90" stroke="#262626" stroke-width="1.7" stroke-linecap="butt"/>
<line x1="562.80" y1="169.61" x2="567.30" y2="169.61" stroke="#262626" stroke-width="1.7" stroke-linecap="butt"/>
<line x1="562.80" y1="120.88" x2="567.30" y2="120.88" stroke="#262626" stroke-width="1.7" stroke-linecap="butt"/>
<line x1="562.80" y1="86.31" x2="567.30" y2="86.31" stroke="#262626" stroke-width="1.7" stroke-linecap="butt"/>
<line x1="562.80" y1="59.49" x2="567.30" y2="59.49" stroke="#262626" stroke-width="1.7" stroke-linecap="butt"/>
<line x1="562.80" y1="37.59" x2="567.30" y2="37.59" stroke="#262626" stroke-width="1.7" stroke-linecap="butt"/>
<text x="18.50" y="40.70" font-size="13" text-anchor="start" font-weight="normal" fill="#262626" stroke="#262626" stroke-width="0.25" textLength="14.30" lengthAdjust="spacingAndGlyphs">10</text>
<text x="33.90" y="36.80" font-size="10" text-anchor="start" font-weight="normal" fill="#262626" stroke="#262626" stroke-width="0.1" textLength="4.90" lengthAdjust="spacingAndGlyphs">6</text>
<text x="18.50" y="156.30" font-size="13" text-anchor="start" font-weight="normal" fill="#262626" stroke="#262626" stroke-width="0.25" textLength="14.30" lengthAdjust="spacingAndGlyphs">10</text>
<text x="33.90" y="152.40" font-size="10" text-anchor="start" font-weight="normal" fill="#262626" stroke="#262626" stroke-width="0.1" textLength="4.90" lengthAdjust="spacingAndGlyphs">5</text>
<text x="18.50" y="266.80" font-size="13" text-anchor="start" font-weight="normal" fill="#262626" stroke="#262626" stroke-width="0.25" textLength="14.30" lengthAdjust="spacingAndGlyphs">10</text>
<text x="33.90" y="262.90" font-size="10" text-anchor="start" font-weight="normal" fill="#262626" stroke="#262626" stroke-width="0.1" textLength="4.90" lengthAdjust="spacingAndGlyphs">4</text>
<text x="212.00" y="40.90" font-size="13" text-anchor="end" font-weight="normal" fill="#262626" stroke="#262626" stroke-width="0.25">10</text>
<text x="214.80" y="188.50" font-size="13" text-anchor="end" font-weight="normal" fill="#262626" stroke="#262626" stroke-width="0.25">1</text>
<text x="213.60" y="265.68" font-size="13" text-anchor="end" font-weight="normal" fill="#262626" stroke="#262626" stroke-width="0.25">0.3</text>
<text x="389.00" y="258.20" font-size="13" text-anchor="end" font-weight="normal" fill="#262626" stroke="#262626" stroke-width="0.25">50</text>
<text x="389.00" y="142.14" font-size="13" text-anchor="end" font-weight="normal" fill="#262626" stroke="#262626" stroke-width="0.25">60</text>
<text x="389.00" y="44.01" font-size="13" text-anchor="end" font-weight="normal" fill="#262626" stroke="#262626" stroke-width="0.25">70</text>
<text x="556.00" y="257.50" font-size="13" text-anchor="end" font-weight="normal" fill="#262626" stroke="#262626" stroke-width="0.25">0</text>
<text x="556.00" y="174.21" font-size="13" text-anchor="end" font-weight="normal" fill="#262626" stroke="#262626" stroke-width="0.25">1</text>
<text x="556.00" y="125.48" font-size="13" text-anchor="end" font-weight="normal" fill="#262626" stroke="#262626" stroke-width="0.25">2</text>
<text x="556.00" y="90.91" font-size="13" text-anchor="end" font-weight="normal" fill="#262626" stroke="#262626" stroke-width="0.25">3</text>
<text x="556.00" y="64.09" font-size="13" text-anchor="end" font-weight="normal" fill="#262626" stroke="#262626" stroke-width="0.25">4</text>
<text x="556.00" y="42.19" font-size="13" text-anchor="end" font-weight="normal" fill="#262626" stroke="#262626" stroke-width="0.25">5</text>
<text x="11.30" y="208.50" font-size="14" text-anchor="start" font-weight="normal" fill="#262626" stroke="#262626" stroke-width="0.25" textLength="120.50" lengthAdjust="spacingAndGlyphs" transform="rotate(-90 11.30 208.50)">Region length (Kb)</text>
<text x="188.70" y="180.30" font-size="14" text-anchor="start" font-weight="normal" fill="#262626" stroke="#262626" stroke-width="0.25" textLength="85.20" lengthAdjust="spacingAndGlyphs" transform="rotate(-90 188.70 180.30)">CDS density*</text>
<text x="365.80" y="187.30" font-size="14" text-anchor="start" font-weight="normal" fill="#262626" stroke="#262626" stroke-width="0.25" textLength="98.80" lengthAdjust="spacingAndGlyphs" transform="rotate(-90 365.80 187.30)">Median GC (%)</text>
<text x="534.30" y="177.20" font-size="14" text-anchor="start" font-weight="normal" fill="#262626" stroke="#262626" stroke-width="0.25" textLength="78.30" lengthAdjust="spacingAndGlyphs" transform="rotate(-90 534.30 177.20)">SSR density</text>
<text x="10.80" y="12.30" font-size="17" text-anchor="start" font-weight="bold" fill="#000">a</text>
<text x="216.50" y="12.30" font-size="17" text-anchor="start" font-weight="bold" fill="#000">b</text>
<text x="357.50" y="12.30" font-size="17" text-anchor="start" font-weight="bold" fill="#000">c</text>
<text x="536.20" y="12.30" font-size="17" text-anchor="start" font-weight="bold" fill="#000">d</text>
<line x1="65.00" y1="37.80" x2="156.40" y2="37.80" stroke="#000" stroke-width="2.3" stroke-linecap="butt"/>
<line x1="65.00" y1="41.10" x2="125.00" y2="41.10" stroke="#000" stroke-width="2.3" stroke-linecap="butt"/>
<line x1="65.00" y1="44.70" x2="98.00" y2="44.70" stroke="#000" stroke-width="2.3" stroke-linecap="butt"/>
<line x1="98.10" y1="50.30" x2="156.40" y2="50.30" stroke="#000" stroke-width="2.3" stroke-linecap="butt"/>
<line x1="231.40" y1="45.80" x2="264.50" y2="45.80" stroke="#000" stroke-width="2.3" stroke-linecap="butt"/>
<line x1="265.10" y1="52.80" x2="324.10" y2="52.80" stroke="#000" stroke-width="2.3" stroke-linecap="butt"/>
<line x1="264.40" y1="57.80" x2="295.40" y2="57.80" stroke="#000" stroke-width="2.3" stroke-linecap="butt"/>
<line x1="295.40" y1="45.50" x2="324.10" y2="45.50" stroke="#000" stroke-width="2.3" stroke-linecap="butt"/>
<line x1="439.20" y1="34.70" x2="497.20" y2="34.70" stroke="#000" stroke-width="2.3" stroke-linecap="butt"/>
<line x1="582.00" y1="35.30" x2="673.80" y2="35.30" stroke="#000" stroke-width="2.3" stroke-linecap="butt"/>
<line x1="582.00" y1="40.80" x2="615.10" y2="40.80" stroke="#000" stroke-width="2.3" stroke-linecap="butt"/>
<line x1="640.20" y1="40.90" x2="673.80" y2="40.90" stroke="#000" stroke-width="2.3" stroke-linecap="butt"/>
<line x1="615.10" y1="45.60" x2="673.80" y2="45.60" stroke="#000" stroke-width="2.3" stroke-linecap="butt"/>
<text x="84.44" y="28.80" font-size="9.36" text-anchor="start" font-weight="normal" fill="#262626" stroke="#262626" stroke-width="0.12" textLength="41.22" lengthAdjust="spacingAndGlyphs">P&lt; 2x10</text>
<line x1="125.90" y1="23.60" x2="127.00" y2="23.60" stroke="#262626" stroke-width="0.9" stroke-linecap="butt"/>
<text x="127.64" y="25.60" font-size="7.68" text-anchor="start" font-weight="normal" fill="#262626" stroke="#262626" stroke-width="0.1" textLength="4.72" lengthAdjust="spacingAndGlyphs">3</text>
<text x="231.92" y="44.00" font-size="9.64" text-anchor="start" font-weight="normal" fill="#262626" stroke="#262626" stroke-width="0.12" textLength="24.46" lengthAdjust="spacingAndGlyphs">6x10</text>
<line x1="256.70" y1="34.70" x2="258.10" y2="34.70" stroke="#262626" stroke-width="0.9" stroke-linecap="butt"/>
<text x="258.78" y="36.60" font-size="6.98" text-anchor="start" font-weight="normal" fill="#262626" stroke="#262626" stroke-width="0.1" textLength="8.44" lengthAdjust="spacingAndGlyphs">15</text>
<text x="300.21" y="40.70" font-size="9.92" text-anchor="start" font-weight="normal" fill="#262626" stroke="#262626" stroke-width="0.12" textLength="24.29" lengthAdjust="spacingAndGlyphs">9x10</text>
<line x1="325.10" y1="34.70" x2="326.40" y2="34.70" stroke="#262626" stroke-width="0.9" stroke-linecap="butt"/>
<text x="326.91" y="36.60" font-size="6.42" text-anchor="start" font-weight="normal" fill="#262626" stroke="#262626" stroke-width="0.1" textLength="4.57" lengthAdjust="spacingAndGlyphs">2</text>
<text x="300.21" y="62.40" font-size="9.78" text-anchor="start" font-weight="normal" fill="#262626" stroke="#262626" stroke-width="0.12" textLength="23.77" lengthAdjust="spacingAndGlyphs">9x10</text>
<line x1="325.50" y1="56.40" x2="327.60" y2="56.40" stroke="#262626" stroke-width="0.9" stroke-linecap="butt"/>
<text x="328.62" y="54.90" font-size="6.28" text-anchor="start" font-weight="normal" fill="#262626" stroke="#262626" stroke-width="0.1" textLength="7.55" lengthAdjust="spacingAndGlyphs">11</text>
<text x="442.01" y="27.10" font-size="9.92" text-anchor="start" font-weight="normal" fill="#262626" stroke="#262626" stroke-width="0.12" textLength="40.89" lengthAdjust="spacingAndGlyphs">P= 2x10</text>
<line x1="483.70" y1="20.90" x2="485.80" y2="20.90" stroke="#262626" stroke-width="0.9" stroke-linecap="butt"/>
<text x="486.44" y="23.00" font-size="9.36" text-anchor="start" font-weight="normal" fill="#262626" stroke="#262626" stroke-width="0.1" textLength="6.42" lengthAdjust="spacingAndGlyphs">3</text>
<text x="604.22" y="29.70" font-size="9.64" text-anchor="start" font-weight="normal" fill="#262626" stroke="#262626" stroke-width="0.12" textLength="41.16" lengthAdjust="spacingAndGlyphs">P&lt; 9x10</text>
<line x1="645.40" y1="23.10" x2="647.90" y2="23.10" stroke="#262626" stroke-width="0.9" stroke-linecap="butt"/>
<text x="648.51" y="21.80" font-size="6.42" text-anchor="start" font-weight="normal" fill="#262626" stroke="#262626" stroke-width="0.1" textLength="4.47" lengthAdjust="spacingAndGlyphs">5</text>
<rect x="54.00" y="281.30" width="32.70" height="9.40" fill="#a0c4c8"/>
<text x="93.30" y="291.40" font-size="17" text-anchor="start" font-weight="normal" fill="#262626" stroke="#262626" stroke-width="0.25" textLength="168.70" lengthAdjust="spacingAndGlyphs">TcMUC/MASP/TS-GV</text>
<rect x="271.20" y="281.30" width="32.80" height="9.40" fill="#eb9a84"/>
<text x="312.40" y="291.40" font-size="17" text-anchor="start" font-weight="normal" fill="#262626" stroke="#262626" stroke-width="0.25" textLength="150.00" lengthAdjust="spacingAndGlyphs">RHS/DGF-1/TS-GII</text>
<rect x="475.90" y="281.30" width="33.20" height="9.40" fill="#dcc6a0"/>
<text x="514.60" y="291.40" font-size="17" text-anchor="start" font-weight="normal" fill="#262626" stroke="#262626" stroke-width="0.25" textLength="43.80" lengthAdjust="spacingAndGlyphs">GP63</text>
<rect x="565.30" y="281.30" width="32.80" height="9.40" fill="#f1c062"/>
<text x="604.00" y="291.40" font-size="17" text-anchor="start" font-weight="normal" fill="#262626" stroke="#262626" stroke-width="0.25" textLength="43.40" lengthAdjust="spacingAndGlyphs">Other</text>
</svg>
</body></html>
